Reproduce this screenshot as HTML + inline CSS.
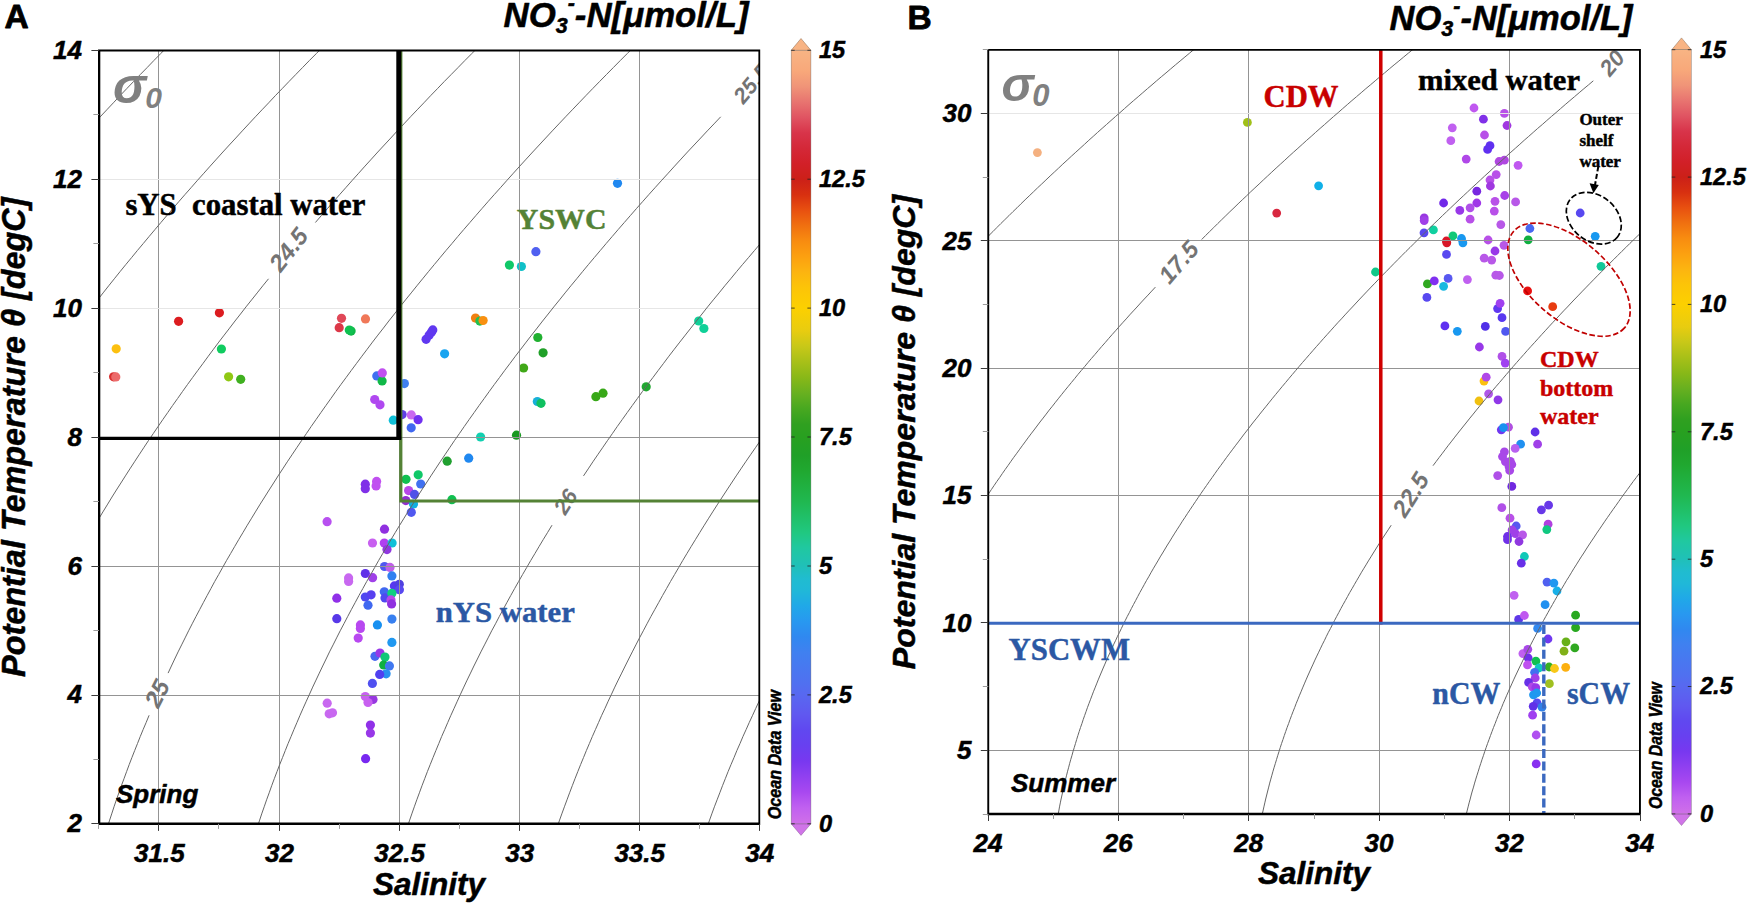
<!DOCTYPE html>
<html lang="en"><head><meta charset="utf-8"><title>T-S diagrams</title>
<style>html,body{margin:0;padding:0;background:#fff}body{width:1750px;height:903px;overflow:hidden}svg{display:block}.s{font-family:"Liberation Sans", Arial, Helvetica, sans-serif;font-weight:bold;font-style:italic;stroke-width:.5px;stroke-linejoin:round}.r{font-family:"Liberation Serif", "Times New Roman", serif;font-weight:bold;stroke-width:.45px;stroke-linejoin:round}</style>
</head><body>
<svg width="1750" height="903" viewBox="0 0 1750 903">
<defs>
<linearGradient id="cb" x1="0" y1="0" x2="0" y2="1">
<stop offset="0.0000" stop-color="#f8b484"/>
<stop offset="0.0267" stop-color="#f8a87a"/>
<stop offset="0.0467" stop-color="#f09478"/>
<stop offset="0.0667" stop-color="#e87470"/>
<stop offset="0.0867" stop-color="#e05462"/>
<stop offset="0.1067" stop-color="#d8344a"/>
<stop offset="0.1267" stop-color="#d42838"/>
<stop offset="0.1467" stop-color="#d22028"/>
<stop offset="0.1667" stop-color="#cc2018"/>
<stop offset="0.1867" stop-color="#d83010"/>
<stop offset="0.2067" stop-color="#e85010"/>
<stop offset="0.2267" stop-color="#f07010"/>
<stop offset="0.2467" stop-color="#f88c10"/>
<stop offset="0.2667" stop-color="#fca010"/>
<stop offset="0.2867" stop-color="#fcb410"/>
<stop offset="0.3067" stop-color="#fcc408"/>
<stop offset="0.3333" stop-color="#fcd000"/>
<stop offset="0.3627" stop-color="#e8cc10"/>
<stop offset="0.3827" stop-color="#c8c818"/>
<stop offset="0.4027" stop-color="#a8c018"/>
<stop offset="0.4233" stop-color="#88b818"/>
<stop offset="0.4433" stop-color="#68b020"/>
<stop offset="0.4633" stop-color="#48a820"/>
<stop offset="0.4833" stop-color="#30a020"/>
<stop offset="0.5000" stop-color="#28a020"/>
<stop offset="0.5233" stop-color="#20a028"/>
<stop offset="0.5433" stop-color="#20a830"/>
<stop offset="0.5633" stop-color="#20b040"/>
<stop offset="0.5833" stop-color="#20b850"/>
<stop offset="0.6033" stop-color="#20c068"/>
<stop offset="0.6233" stop-color="#20c880"/>
<stop offset="0.6433" stop-color="#20c8a0"/>
<stop offset="0.6667" stop-color="#20c0b8"/>
<stop offset="0.6833" stop-color="#20bcd0"/>
<stop offset="0.6987" stop-color="#20b8d8"/>
<stop offset="0.7187" stop-color="#20a8e8"/>
<stop offset="0.7387" stop-color="#2898f0"/>
<stop offset="0.7587" stop-color="#3088f0"/>
<stop offset="0.7787" stop-color="#4080f0"/>
<stop offset="0.7987" stop-color="#4878f0"/>
<stop offset="0.8187" stop-color="#5070f0"/>
<stop offset="0.8333" stop-color="#5868f0"/>
<stop offset="0.8587" stop-color="#6058f0"/>
<stop offset="0.8787" stop-color="#6048f0"/>
<stop offset="0.8987" stop-color="#6840f0"/>
<stop offset="0.9187" stop-color="#7838f0"/>
<stop offset="0.9387" stop-color="#9040f0"/>
<stop offset="0.9587" stop-color="#a848f0"/>
<stop offset="0.9787" stop-color="#c060f0"/>
<stop offset="1.0000" stop-color="#d070e8"/>
</linearGradient>
<clipPath id="ca"><rect x="98.9" y="50.5" width="660.4" height="773.4"/></clipPath>
<clipPath id="cbp"><rect x="988.3" y="49.9" width="651.7" height="764.1"/></clipPath>
</defs>
<rect width="1750" height="903" fill="#fff"/>
<g clip-path="url(#ca)">
<circle cx="116.2" cy="348.8" r="4.6" fill="#fcc010"/>
<circle cx="113.6" cy="376.8" r="4.6" fill="#d83030"/>
<circle cx="115.8" cy="376.9" r="4.6" fill="#ec6a6a"/>
<circle cx="178.6" cy="321.3" r="4.6" fill="#dc1c20"/>
<circle cx="219.4" cy="312.8" r="4.6" fill="#dc1c20"/>
<circle cx="221.4" cy="349.0" r="4.6" fill="#10cc60"/>
<circle cx="228.6" cy="376.8" r="4.6" fill="#90c814"/>
<circle cx="240.7" cy="379.3" r="4.6" fill="#40b020"/>
<circle cx="341.5" cy="318.3" r="4.6" fill="#e04858"/>
<circle cx="339.2" cy="327.7" r="4.6" fill="#dc3848"/>
<circle cx="351.1" cy="331.1" r="4.6" fill="#10b848"/>
<circle cx="349.3" cy="330.0" r="4.6" fill="#10c050"/>
<circle cx="365.5" cy="318.9" r="4.6" fill="#f07858"/>
<circle cx="376.8" cy="375.9" r="4.6" fill="#4070f0"/>
<circle cx="382.1" cy="380.9" r="4.6" fill="#10b848"/>
<circle cx="382.3" cy="372.9" r="4.6" fill="#c050f0"/>
<circle cx="374.7" cy="399.5" r="4.6" fill="#b048f0"/>
<circle cx="380.0" cy="404.8" r="4.6" fill="#b048f0"/>
<circle cx="393.3" cy="420.2" r="4.6" fill="#10c0d8"/>
<circle cx="404.4" cy="383.6" r="4.6" fill="#4080f0"/>
<circle cx="426.1" cy="339.3" r="4.6" fill="#6038f0"/>
<circle cx="429.1" cy="335.2" r="4.6" fill="#6038f0"/>
<circle cx="431.4" cy="332.2" r="4.6" fill="#6038f0"/>
<circle cx="432.8" cy="329.9" r="4.6" fill="#6038f0"/>
<circle cx="444.6" cy="353.8" r="4.6" fill="#18a4f0"/>
<circle cx="402.1" cy="414.6" r="4.6" fill="#6040e8"/>
<circle cx="411.3" cy="414.9" r="4.6" fill="#c868f0"/>
<circle cx="418.1" cy="419.7" r="4.6" fill="#7030f0"/>
<circle cx="411.2" cy="427.8" r="4.6" fill="#4068f0"/>
<circle cx="617.5" cy="183.3" r="4.6" fill="#2088f0"/>
<circle cx="535.9" cy="251.7" r="4.6" fill="#5060f0"/>
<circle cx="509.4" cy="265.1" r="4.6" fill="#10c868"/>
<circle cx="521.4" cy="266.5" r="4.6" fill="#10c0c8"/>
<circle cx="475.5" cy="318.1" r="4.6" fill="#f08010"/>
<circle cx="479.9" cy="321.1" r="4.6" fill="#20c050"/>
<circle cx="483.1" cy="320.5" r="4.6" fill="#f89010"/>
<circle cx="537.8" cy="337.5" r="4.6" fill="#20b030"/>
<circle cx="543.1" cy="352.8" r="4.6" fill="#20a028"/>
<circle cx="523.6" cy="368.0" r="4.6" fill="#40a818"/>
<circle cx="537.3" cy="401.5" r="4.6" fill="#18b0d8"/>
<circle cx="541.0" cy="403.3" r="4.6" fill="#10c060"/>
<circle cx="595.9" cy="396.7" r="4.6" fill="#38a818"/>
<circle cx="603.0" cy="393.2" r="4.6" fill="#38a818"/>
<circle cx="480.6" cy="437.0" r="4.6" fill="#10d0b0"/>
<circle cx="516.5" cy="435.2" r="4.6" fill="#189820"/>
<circle cx="468.7" cy="458.2" r="4.6" fill="#2088f0"/>
<circle cx="447.2" cy="461.2" r="4.6" fill="#20a030"/>
<circle cx="646.2" cy="386.8" r="4.6" fill="#20a830"/>
<circle cx="698.7" cy="321.0" r="4.6" fill="#10d098"/>
<circle cx="703.9" cy="328.5" r="4.6" fill="#10d098"/>
<circle cx="418.2" cy="474.8" r="4.6" fill="#10c868"/>
<circle cx="406.0" cy="479.3" r="4.6" fill="#10c050"/>
<circle cx="420.7" cy="484.0" r="4.6" fill="#4070f0"/>
<circle cx="408.6" cy="490.6" r="4.6" fill="#b848e8"/>
<circle cx="414.5" cy="494.4" r="4.6" fill="#5050e8"/>
<circle cx="405.8" cy="500.6" r="4.6" fill="#9030d0"/>
<circle cx="413.5" cy="504.0" r="4.6" fill="#10b0e0"/>
<circle cx="451.9" cy="499.7" r="4.6" fill="#10c050"/>
<circle cx="411.3" cy="512.3" r="4.6" fill="#5058f0"/>
<circle cx="365.3" cy="484.2" r="4.6" fill="#8030e8"/>
<circle cx="365.3" cy="488.7" r="4.6" fill="#8030e8"/>
<circle cx="376.6" cy="481.4" r="4.6" fill="#c050f0"/>
<circle cx="376.1" cy="485.9" r="4.6" fill="#c050f0"/>
<circle cx="327.1" cy="521.7" r="4.6" fill="#b850f0"/>
<circle cx="384.5" cy="529.2" r="4.6" fill="#9030e0"/>
<circle cx="372.5" cy="543.0" r="4.6" fill="#c860f0"/>
<circle cx="384.3" cy="543.0" r="4.6" fill="#b040f0"/>
<circle cx="392.1" cy="543.0" r="4.6" fill="#10c0d8"/>
<circle cx="387.0" cy="549.6" r="4.6" fill="#9038e0"/>
<circle cx="384.5" cy="566.5" r="4.6" fill="#5058f0"/>
<circle cx="390.0" cy="567.4" r="4.6" fill="#c060e8"/>
<circle cx="391.9" cy="575.9" r="4.6" fill="#3080f0"/>
<circle cx="365.3" cy="573.5" r="4.6" fill="#6030e8"/>
<circle cx="372.6" cy="577.7" r="4.6" fill="#a040e8"/>
<circle cx="348.6" cy="577.9" r="4.6" fill="#c868f0"/>
<circle cx="348.6" cy="581.5" r="4.6" fill="#c868f0"/>
<circle cx="394.4" cy="585.9" r="4.6" fill="#5838f0"/>
<circle cx="399.3" cy="584.3" r="4.6" fill="#5040e0"/>
<circle cx="399.4" cy="589.7" r="4.6" fill="#5848f0"/>
<circle cx="384.3" cy="591.8" r="4.6" fill="#4068f0"/>
<circle cx="385.0" cy="597.9" r="4.6" fill="#5048f0"/>
<circle cx="391.9" cy="593.3" r="4.6" fill="#10d080"/>
<circle cx="391.0" cy="599.9" r="4.6" fill="#b848e8"/>
<circle cx="391.6" cy="603.9" r="4.6" fill="#9030e0"/>
<circle cx="365.3" cy="597.0" r="4.6" fill="#5048f0"/>
<circle cx="371.1" cy="594.8" r="4.6" fill="#5840f0"/>
<circle cx="368.0" cy="605.2" r="4.6" fill="#4068f0"/>
<circle cx="336.8" cy="598.2" r="4.6" fill="#9030e8"/>
<circle cx="336.8" cy="618.7" r="4.6" fill="#5838e8"/>
<circle cx="391.9" cy="619.1" r="4.6" fill="#3880f0"/>
<circle cx="377.4" cy="624.9" r="4.6" fill="#1890f0"/>
<circle cx="360.4" cy="624.9" r="4.6" fill="#b848f0"/>
<circle cx="360.4" cy="628.4" r="4.6" fill="#b848f0"/>
<circle cx="358.2" cy="638.1" r="4.6" fill="#b848f0"/>
<circle cx="391.9" cy="642.4" r="4.6" fill="#2098f0"/>
<circle cx="375.0" cy="656.3" r="4.6" fill="#4868f0"/>
<circle cx="380.0" cy="653.0" r="4.6" fill="#9838e8"/>
<circle cx="385.0" cy="657.0" r="4.6" fill="#10c878"/>
<circle cx="383.7" cy="665.0" r="4.6" fill="#10b040"/>
<circle cx="389.4" cy="665.9" r="4.6" fill="#4078f0"/>
<circle cx="386.1" cy="673.8" r="4.6" fill="#2890f0"/>
<circle cx="379.7" cy="674.4" r="4.6" fill="#5040f0"/>
<circle cx="372.4" cy="683.4" r="4.6" fill="#5050f0"/>
<circle cx="365.3" cy="696.6" r="4.6" fill="#c860f0"/>
<circle cx="373.0" cy="699.5" r="4.6" fill="#9838e0"/>
<circle cx="368.0" cy="702.5" r="4.6" fill="#c860f0"/>
<circle cx="327.2" cy="703.2" r="4.6" fill="#c868f0"/>
<circle cx="329.2" cy="713.8" r="4.6" fill="#c868f0"/>
<circle cx="332.5" cy="712.8" r="4.6" fill="#c868f0"/>
<circle cx="370.4" cy="725.1" r="4.6" fill="#9030e8"/>
<circle cx="370.4" cy="733.1" r="4.6" fill="#9838e8"/>
<circle cx="365.6" cy="758.7" r="4.6" fill="#7828f0"/>
<line x1="158.5" y1="50.5" x2="158.5" y2="823.9" stroke="#949494" stroke-width="1"/>
<line x1="279.5" y1="50.5" x2="279.5" y2="823.9" stroke="#949494" stroke-width="1"/>
<line x1="399.5" y1="50.5" x2="399.5" y2="823.9" stroke="#949494" stroke-width="1"/>
<line x1="519.5" y1="50.5" x2="519.5" y2="823.9" stroke="#949494" stroke-width="1"/>
<line x1="639.5" y1="50.5" x2="639.5" y2="823.9" stroke="#949494" stroke-width="1"/>
<line x1="98.9" y1="695.5" x2="759.3" y2="695.5" stroke="#949494" stroke-width="1"/>
<line x1="98.9" y1="566.5" x2="759.3" y2="566.5" stroke="#949494" stroke-width="1"/>
<line x1="98.9" y1="437.5" x2="759.3" y2="437.5" stroke="#949494" stroke-width="1"/>
<line x1="98.9" y1="308.5" x2="759.3" y2="308.5" stroke="#e6e6e6" stroke-width="1"/>
<line x1="98.9" y1="179.5" x2="759.3" y2="179.5" stroke="#e6e6e6" stroke-width="1"/>
<path d="M-621.5 856.1 L-621.5 849.1 L-621.5 842.0 L-621.5 835.0 L-621.5 828.0 L-621.5 820.9 L-621.5 813.9 L-621.5 806.8 L-621.5 799.8 L-621.5 792.8 L-621.5 785.7 L-621.5 778.7 L-621.5 771.6 L-621.5 764.6 L-621.2 757.6 L-618.8 750.5 L-616.3 743.5 L-613.7 736.4 L-611.1 729.4 L-608.5 722.4 L-605.8 715.3 L-603.0 708.3 L-600.2 701.2 L-597.4 694.2 L-594.5 687.1 L-591.6 680.1 L-588.6 673.1 L-585.6 666.0 L-582.5 659.0 L-579.4 651.9 L-576.2 644.9 L-573.0 637.9 L-569.7 630.8 L-566.4 623.8 L-563.0 616.7 L-559.6 609.7 L-556.1 602.7 L-552.6 595.6 L-549.1 588.6 L-545.5 581.5 L-541.8 574.5 L-538.2 567.5 L-534.4 560.4 L-530.6 553.4 L-526.8 546.3 L-522.9 539.3 L-519.0 532.3 L-515.1 525.2 L-511.1 518.2 L-507.0 511.1 L-502.9 504.1 L-498.7 497.0 L-494.6 490.0 L-490.3 483.0 L-486.0 475.9 L-481.7 468.9 L-477.3 461.8 L-472.9 454.8 L-468.5 447.8 L-464.0 440.7 L-459.4 433.7 L-454.8 426.6 L-450.2 419.6 L-445.5 412.6 L-440.8 405.5 L-436.0 398.5 L-431.2 391.4 L-426.3 384.4 L-421.4 377.4 L-416.5 370.3 L-411.5 363.3 L-406.5 356.2 L-401.4 349.2 L-396.3 342.1 L-391.1 335.1 L-385.9 328.1 L-380.7 321.0 L-375.4 314.0 L-370.1 306.9 L-364.7 299.9 L-359.3 292.9 L-353.8 285.8 L-348.3 278.8 L-342.8 271.7 L-337.2 264.7 L-331.6 257.7 L-325.9 250.6 L-320.2 243.6 L-314.4 236.5 L-308.6 229.5 L-302.8 222.5 L-296.9 215.4 L-291.0 208.4 L-285.0 201.3 L-279.0 194.3 L-273.0 187.3 L-266.9 180.2 L-260.8 173.2 L-254.6 166.1 L-248.4 159.1 L-242.2 152.0 L-235.9 145.0 L-229.5 138.0 L-223.2 130.9 L-216.8 123.9 L-210.3 116.8 L-203.8 109.8 L-197.3 102.8 L-190.7 95.7 L-184.1 88.7 L-177.4 81.6 L-170.7 74.6 L-164.0 67.6 L-157.2 60.5 L-150.4 53.5 L-143.6 46.4 L-136.7 39.4 L-129.7 32.4 L-122.8 25.3 L-115.8 18.3" fill="none" stroke="#666666" stroke-width="1"/>
<path d="M-500.6 856.1 L-498.7 849.1 L-496.9 842.0 L-494.9 835.0 L-493.0 828.0 L-491.0 820.9 L-488.9 813.9 L-486.8 806.8 L-484.6 799.8 L-482.4 792.8 L-480.1 785.7 L-477.8 778.7 L-475.4 771.6 L-473.0 764.6 L-470.5 757.6 L-468.0 750.5 L-465.5 743.5 L-462.9 736.4 L-460.2 729.4 L-457.5 722.4 L-454.7 715.3 L-451.9 708.3 L-449.1 701.2 L-446.2 694.2 L-443.2 687.1 L-440.2 680.1 L-437.2 673.1 L-434.1 666.0 L-431.0 659.0 L-427.8 651.9 L-424.6 644.9 L-421.3 637.9 L-418.0 630.8 L-414.6 623.8 L-411.2 616.7 L-407.7 609.7 L-404.2 602.7 L-400.6 595.6 L-397.0 588.6 L-393.4 581.5 L-389.7 574.5 L-385.9 567.5 L-382.2 560.4 L-378.3 553.4 L-374.4 546.3 L-370.5 539.3 L-366.5 532.3 L-362.5 525.2 L-358.5 518.2 L-354.4 511.1 L-350.2 504.1 L-346.0 497.0 L-341.8 490.0 L-337.5 483.0 L-333.1 475.9 L-328.8 468.9 L-324.3 461.8 L-319.9 454.8 L-315.4 447.8 L-310.8 440.7 L-306.2 433.7 L-301.6 426.6 L-296.9 419.6 L-292.2 412.6 L-287.4 405.5 L-282.6 398.5 L-277.7 391.4 L-272.8 384.4 L-267.8 377.4 L-262.9 370.3 L-257.8 363.3 L-252.7 356.2 L-247.6 349.2 L-242.5 342.1 L-237.2 335.1 L-232.0 328.1 L-226.7 321.0 L-221.4 314.0 L-216.0 306.9 L-210.6 299.9 L-205.1 292.9 L-199.6 285.8 L-194.1 278.8 L-188.5 271.7 L-182.8 264.7 L-177.2 257.7 L-171.5 250.6 L-165.7 243.6 L-159.9 236.5 L-154.1 229.5 L-148.2 222.5 L-142.3 215.4 L-136.3 208.4 L-130.3 201.3 L-124.2 194.3 L-118.1 187.3 L-112.0 180.2 L-105.9 173.2 L-99.6 166.1 L-93.4 159.1 L-87.1 152.0 L-80.8 145.0 L-74.4 138.0 L-68.0 130.9 L-61.5 123.9 L-55.0 116.8 L-48.5 109.8 L-41.9 102.8 L-35.3 95.7 L-28.7 88.7 L-22.0 81.6 L-15.2 74.6 L-8.5 67.6 L-1.6 60.5 L5.2 53.5 L12.1 46.4 L19.0 39.4 L26.0 32.4 L33.0 25.3 L40.1 18.3" fill="none" stroke="#666666" stroke-width="1"/>
<path d="M-350.8 856.1 L-348.9 849.1 L-346.9 842.0 L-345.0 835.0 L-342.9 828.0 L-340.8 820.9 L-338.7 813.9 L-336.5 806.8 L-334.3 799.8 L-332.0 792.8 L-329.7 785.7 L-327.3 778.7 L-324.9 771.6 L-322.4 764.6 L-319.9 757.6 L-317.3 750.5 L-314.7 743.5 L-312.0 736.4 L-309.3 729.4 L-306.5 722.4 L-303.7 715.3 L-300.9 708.3 L-298.0 701.2 L-295.0 694.2 L-292.0 687.1 L-288.9 680.1 L-285.8 673.1 L-282.7 666.0 L-279.5 659.0 L-276.3 651.9 L-273.0 644.9 L-269.6 637.9 L-266.3 630.8 L-262.8 623.8 L-259.4 616.7 L-255.8 609.7 L-252.3 602.7 L-248.7 595.6 L-245.0 588.6 L-241.3 581.5 L-237.5 574.5 L-233.8 567.5 L-229.9 560.4 L-226.0 553.4 L-222.1 546.3 L-218.1 539.3 L-214.1 532.3 L-210.0 525.2 L-205.9 518.2 L-201.7 511.1 L-197.5 504.1 L-193.3 497.0 L-189.0 490.0 L-184.7 483.0 L-180.3 475.9 L-175.8 468.9 L-171.4 461.8 L-166.9 454.8 L-162.3 447.8 L-157.7 440.7 L-153.0 433.7 L-148.3 426.6 L-143.6 419.6 L-138.8 412.6 L-134.0 405.5 L-129.1 398.5 L-124.2 391.4 L-119.3 384.4 L-114.3 377.4 L-109.2 370.3 L-104.2 363.3 L-99.0 356.2 L-93.9 349.2 L-88.7 342.1 L-83.4 335.1 L-78.1 328.1 L-72.8 321.0 L-67.4 314.0 L-62.0 306.9 L-56.5 299.9 L-51.0 292.9 L-45.4 285.8 L-39.8 278.8 L-34.2 271.7 L-28.5 264.7 L-22.8 257.7 L-17.0 250.6 L-11.2 243.6 L-5.4 236.5 L0.5 229.5 L6.4 222.5 L12.4 215.4 L18.4 208.4 L24.4 201.3 L30.5 194.3 L36.7 187.3 L42.8 180.2 L49.0 173.2 L55.3 166.1 L61.6 159.1 L67.9 152.0 L74.3 145.0 L80.7 138.0 L87.2 130.9 L93.7 123.9 L100.2 116.8 L106.8 109.8 L113.4 102.8 L120.0 95.7 L126.7 88.7 L133.5 81.6 L140.2 74.6 L147.1 67.6 L153.9 60.5 L160.8 53.5 L167.7 46.4 L174.7 39.4 L181.7 32.4 L188.8 25.3 L195.9 18.3" fill="none" stroke="#666666" stroke-width="1"/>
<path d="M-201.0 856.1 L-199.0 849.1 L-197.0 842.0 L-195.0 835.0 L-192.9 828.0 L-190.7 820.9 L-188.6 813.9 L-186.3 806.8 L-184.0 799.8 L-181.7 792.8 L-179.3 785.7 L-176.9 778.7 L-174.4 771.6 L-171.8 764.6 L-169.3 757.6 L-166.6 750.5 L-163.9 743.5 L-161.2 736.4 L-158.4 729.4 L-155.6 722.4 L-152.7 715.3 L-149.8 708.3 L-146.9 701.2 L-143.8 694.2 L-140.8 687.1 L-137.7 680.1 L-134.5 673.1 L-131.3 666.0 L-128.1 659.0 L-124.8 651.9 L-121.4 644.9 L-118.0 637.9 L-114.6 630.8 L-111.1 623.8 L-107.6 616.7 L-104.0 609.7 L-100.4 602.7 L-96.7 595.6 L-93.0 588.6 L-89.3 581.5 L-85.4 574.5 L-81.6 567.5 L-77.7 560.4 L-73.8 553.4 L-69.8 546.3 L-65.7 539.3 L-61.7 532.3 L-57.5 525.2 L-53.4 518.2 L-49.2 511.1 L-44.9 504.1 L-40.6 497.0 L-36.3 490.0 L-31.9 483.0 L-27.4 475.9 L-23.0 468.9 L-18.4 461.8 L-13.9 454.8 L-9.3 447.8 L-4.6 440.7 L0.1 433.7 L4.8 426.6 L9.6 419.6 L14.5 412.6 L19.3 405.5 L24.2 398.5 L29.2 391.4 L34.2 384.4 L39.2 377.4 L44.3 370.3 L49.5 363.3 L54.6 356.2 L59.9 349.2 L65.1 342.1 L70.4 335.1 L75.8 328.1 L81.1 321.0 L86.6 314.0 L92.0 306.9 L97.6 299.9 L103.1 292.9 L108.7 285.8 L114.3 278.8 L120.0 271.7 L125.7 264.7 L131.5 257.7 L137.3 250.6 L143.2 243.6 L149.1 236.5 L155.0 229.5 L160.9 222.5 L167.0 215.4 L173.0 208.4 L179.1 201.3 L185.2 194.3 L191.4 187.3 L197.6 180.2 L203.9 173.2 L210.2 166.1 L216.5 159.1 L222.9 152.0 L229.3 145.0 L235.8 138.0 L242.3 130.9 L248.8 123.9 L255.4 116.8 L262.0 109.8 L268.7 102.8 L275.3 95.7 L282.1 88.7 L288.9 81.6 L295.7 74.6 L302.5 67.6 L309.4 60.5 L316.4 53.5 L323.3 46.4 L330.3 39.4 L337.4 32.4 L344.5 25.3 L351.6 18.3" fill="none" stroke="#666666" stroke-width="1"/>
<path d="M-51.2 856.1 L-49.2 849.1 L-47.1 842.0 L-45.0 835.0 L-42.9 828.0 L-40.7 820.9 L-38.4 813.9 L-36.1 806.8 L-33.8 799.8 L-31.4 792.8 L-28.9 785.7 L-26.4 778.7 L-23.9 771.6 L-21.3 764.6 L-18.6 757.6 L-16.0 750.5 L-13.2 743.5 L-10.4 736.4 L-7.6 729.4 L-4.7 722.4 L-1.8 715.3 L1.2 708.3 L4.2 701.2 L7.3 694.2 L10.4 687.1 L13.6 680.1 L16.8 673.1 L20.0 666.0 L23.3 659.0 L26.7 651.9 L30.1 644.9 L33.5 637.9 L37.0 630.8 L40.6 623.8 L44.2 616.7 L47.8 609.7 L51.5 602.7 L55.2 595.6 L59.0 588.6 L62.8 581.5 L66.6 574.5 L70.5 567.5 L74.5 560.4 L78.5 553.4 L82.5 546.3 L86.6 539.3 L90.7 532.3 L94.9 525.2 L99.1 518.2 L103.4 511.1 L107.7 504.1 L112.0 497.0 L116.4 490.0 L120.9 483.0 L125.4 475.9 L129.9 468.9 L134.5 461.8 L139.1 454.8 L143.7 447.8 L148.4 440.7 L153.2 433.7 L158.0 426.6 L162.8 419.6 L167.7 412.6 L172.6 405.5 L177.6 398.5 L182.6 391.4 L187.6 384.4 L192.7 377.4 L197.9 370.3 L203.1 363.3 L208.3 356.2 L213.5 349.2 L218.8 342.1 L224.2 335.1 L229.6 328.1 L235.0 321.0 L240.5 314.0 L246.0 306.9 L251.6 299.9 L257.2 292.9 L262.8 285.8 L268.5 278.8" fill="none" stroke="#666666" stroke-width="1"/>
<path d="M315.4 222.5 L321.5 215.4 L327.6 208.4 L333.7 201.3 L339.9 194.3 L346.1 187.3 L352.4 180.2 L358.7 173.2 L365.0 166.1 L371.4 159.1 L377.8 152.0 L384.3 145.0 L390.8 138.0 L397.3 130.9 L403.9 123.9 L410.5 116.8 L417.2 109.8 L423.9 102.8 L430.6 95.7 L437.4 88.7 L444.2 81.6 L451.1 74.6 L458.0 67.6 L464.9 60.5 L471.9 53.5 L478.9 46.4 L485.9 39.4 L493.0 32.4 L500.1 25.3 L507.3 18.3" fill="none" stroke="#666666" stroke-width="1"/>
<path d="M98.5 856.1 L100.6 849.1 L102.7 842.0 L104.9 835.0 L107.1 828.0 L109.4 820.9 L111.7 813.9 L114.0 806.8 L116.4 799.8 L118.9 792.8 L121.4 785.7 L124.0 778.7 L126.6 771.6 L129.2 764.6 L131.9 757.6 L134.7 750.5 L137.5 743.5 L140.3 736.4 L143.2 729.4 L146.2 722.4 L149.1 715.3" fill="none" stroke="#666666" stroke-width="1"/>
<path d="M168.1 673.1 L171.4 666.0 L174.7 659.0 L178.1 651.9 L181.6 644.9 L185.1 637.9 L188.6 630.8 L192.2 623.8 L195.9 616.7 L199.6 609.7 L203.3 602.7 L207.1 595.6 L210.9 588.6 L214.7 581.5 L218.7 574.5 L222.6 567.5 L226.6 560.4 L230.7 553.4 L234.8 546.3 L238.9 539.3 L243.1 532.3 L247.3 525.2 L251.6 518.2 L255.9 511.1 L260.2 504.1 L264.7 497.0 L269.1 490.0 L273.6 483.0 L278.1 475.9 L282.7 468.9 L287.3 461.8 L292.0 454.8 L296.7 447.8 L301.5 440.7 L306.3 433.7 L311.1 426.6 L316.0 419.6 L320.9 412.6 L325.9 405.5 L330.9 398.5 L335.9 391.4 L341.0 384.4 L346.2 377.4 L351.4 370.3 L356.6 363.3 L361.9 356.2 L367.2 349.2 L372.5 342.1 L377.9 335.1 L383.4 328.1 L388.8 321.0 L394.4 314.0 L399.9 306.9 L405.5 299.9 L411.2 292.9 L416.9 285.8 L422.6 278.8 L428.4 271.7 L434.2 264.7 L440.0 257.7 L445.9 250.6 L451.9 243.6 L457.8 236.5 L463.8 229.5 L469.9 222.5 L476.0 215.4 L482.1 208.4 L488.3 201.3 L494.5 194.3 L500.8 187.3 L507.1 180.2 L513.4 173.2 L519.8 166.1 L526.2 159.1 L532.7 152.0 L539.2 145.0 L545.7 138.0 L552.3 130.9 L558.9 123.9 L565.6 116.8 L572.3 109.8 L579.0 102.8 L585.8 95.7 L592.6 88.7 L599.5 81.6 L606.4 74.6 L613.3 67.6 L620.3 60.5 L627.3 53.5 L634.4 46.4 L641.5 39.4 L648.6 32.4 L655.8 25.3 L663.0 18.3" fill="none" stroke="#666666" stroke-width="1"/>
<path d="M248.2 856.1 L250.4 849.1 L252.5 842.0 L254.8 835.0 L257.0 828.0 L259.4 820.9 L261.7 813.9 L264.2 806.8 L266.6 799.8 L269.2 792.8 L271.7 785.7 L274.3 778.7 L277.0 771.6 L279.7 764.6 L282.5 757.6 L285.3 750.5 L288.1 743.5 L291.1 736.4 L294.0 729.4 L297.0 722.4 L300.0 715.3 L303.1 708.3 L306.3 701.2 L309.5 694.2 L312.7 687.1 L316.0 680.1 L319.3 673.1 L322.7 666.0 L326.1 659.0 L329.5 651.9 L333.1 644.9 L336.6 637.9 L340.2 630.8 L343.9 623.8 L347.6 616.7 L351.3 609.7 L355.1 602.7 L358.9 595.6 L362.8 588.6 L366.7 581.5 L370.7 574.5 L374.7 567.5 L378.7 560.4 L382.8 553.4 L387.0 546.3 L391.2 539.3 L395.4 532.3 L399.7 525.2 L404.0 518.2 L408.4 511.1 L412.8 504.1 L417.2 497.0 L421.7 490.0 L426.3 483.0 L430.9 475.9 L435.5 468.9 L440.2 461.8 L444.9 454.8 L449.6 447.8 L454.4 440.7 L459.3 433.7 L464.2 426.6 L469.1 419.6 L474.1 412.6 L479.1 405.5 L484.2 398.5 L489.3 391.4 L494.4 384.4 L499.6 377.4 L504.8 370.3 L510.1 363.3 L515.4 356.2 L520.8 349.2 L526.2 342.1 L531.6 335.1 L537.1 328.1 L542.6 321.0 L548.2 314.0 L553.8 306.9 L559.5 299.9 L565.1 292.9 L570.9 285.8 L576.7 278.8 L582.5 271.7 L588.3 264.7 L594.2 257.7 L600.2 250.6 L606.1 243.6 L612.2 236.5 L618.2 229.5 L624.3 222.5 L630.5 215.4 L636.6 208.4 L642.9 201.3 L649.1 194.3 L655.4 187.3 L661.8 180.2 L668.2 173.2 L674.6 166.1 L681.0 159.1 L687.5 152.0 L694.1 145.0 L700.7 138.0 L707.3 130.9 L714.0 123.9 L720.7 116.8" fill="none" stroke="#666666" stroke-width="1"/>
<path d="M782.7 53.5 L789.8 46.4 L796.9 39.4 L804.1 32.4 L811.3 25.3 L818.6 18.3" fill="none" stroke="#666666" stroke-width="1"/>
<path d="M397.9 856.1 L400.1 849.1 L402.3 842.0 L404.6 835.0 L407.0 828.0 L409.4 820.9 L411.8 813.9 L414.3 806.8 L416.8 799.8 L419.4 792.8 L422.0 785.7 L424.7 778.7 L427.4 771.6 L430.2 764.6 L433.0 757.6 L435.9 750.5 L438.8 743.5 L441.7 736.4 L444.8 729.4 L447.8 722.4 L450.9 715.3 L454.1 708.3 L457.3 701.2 L460.5 694.2 L463.8 687.1 L467.1 680.1 L470.5 673.1 L473.9 666.0 L477.4 659.0 L480.9 651.9 L484.5 644.9 L488.1 637.9 L491.7 630.8 L495.5 623.8 L499.2 616.7 L503.0 609.7 L506.8 602.7 L510.7 595.6 L514.6 588.6 L518.6 581.5 L522.6 574.5 L526.7 567.5 L530.8 560.4 L535.0 553.4 L539.2 546.3 L543.4 539.3 L547.7 532.3 L552.0 525.2" fill="none" stroke="#666666" stroke-width="1"/>
<path d="M583.5 475.9 L588.2 468.9 L592.9 461.8 L597.7 454.8 L602.5 447.8 L607.4 440.7 L612.3 433.7 L617.2 426.6 L622.2 419.6 L627.2 412.6 L632.3 405.5 L637.4 398.5 L642.5 391.4 L647.7 384.4 L653.0 377.4 L658.3 370.3 L663.6 363.3 L668.9 356.2 L674.3 349.2 L679.8 342.1 L685.3 335.1 L690.8 328.1 L696.4 321.0 L702.0 314.0 L707.6 306.9 L713.3 299.9 L719.1 292.9 L724.8 285.8 L730.7 278.8 L736.5 271.7 L742.4 264.7 L748.4 257.7 L754.4 250.6 L760.4 243.6 L766.4 236.5 L772.5 229.5 L778.7 222.5 L784.9 215.4 L791.1 208.4 L797.4 201.3 L803.7 194.3 L810.0 187.3 L816.4 180.2 L822.8 173.2 L829.3 166.1 L835.8 159.1 L842.3 152.0 L848.9 145.0 L855.5 138.0 L862.2 130.9 L868.9 123.9 L875.7 116.8 L882.4 109.8 L889.3 102.8 L896.1 95.7 L903.0 88.7 L909.9 81.6 L916.9 74.6 L923.9 67.6 L931.0 60.5 L938.1 53.5 L945.2 46.4 L952.4 39.4 L959.6 32.4 L966.8 25.3 L974.1 18.3" fill="none" stroke="#666666" stroke-width="1"/>
<path d="M547.6 856.1 L549.8 849.1 L552.1 842.0 L554.5 835.0 L556.9 828.0 L559.3 820.9 L561.8 813.9 L564.4 806.8 L567.0 799.8 L569.6 792.8 L572.3 785.7 L575.0 778.7 L577.8 771.6 L580.6 764.6 L583.5 757.6 L586.4 750.5 L589.4 743.5 L592.4 736.4 L595.5 729.4 L598.6 722.4 L601.7 715.3 L605.0 708.3 L608.2 701.2 L611.5 694.2 L614.8 687.1 L618.2 680.1 L621.7 673.1 L625.2 666.0 L628.7 659.0 L632.3 651.9 L635.9 644.9 L639.5 637.9 L643.3 630.8 L647.0 623.8 L650.8 616.7 L654.7 609.7 L658.6 602.7 L662.5 595.6 L666.5 588.6 L670.5 581.5 L674.6 574.5 L678.7 567.5 L682.8 560.4 L687.0 553.4 L691.3 546.3 L695.6 539.3 L699.9 532.3 L704.3 525.2 L708.7 518.2 L713.2 511.1 L717.7 504.1 L722.3 497.0 L726.9 490.0 L731.5 483.0 L736.2 475.9 L740.9 468.9 L745.7 461.8 L750.5 454.8 L755.4 447.8 L760.3 440.7 L765.2 433.7 L770.2 426.6 L775.2 419.6 L780.3 412.6 L785.4 405.5 L790.6 398.5 L795.8 391.4 L801.0 384.4 L806.3 377.4 L811.6 370.3 L817.0 363.3 L822.4 356.2 L827.9 349.2 L833.3 342.1 L838.9 335.1 L844.5 328.1 L850.1 321.0 L855.7 314.0 L861.4 306.9 L867.2 299.9 L873.0 292.9 L878.8 285.8 L884.6 278.8 L890.5 271.7 L896.5 264.7 L902.5 257.7 L908.5 250.6 L914.6 243.6 L920.7 236.5 L926.8 229.5 L933.0 222.5 L939.2 215.4 L945.5 208.4 L951.8 201.3 L958.2 194.3 L964.6 187.3 L971.0 180.2 L977.4 173.2 L984.0 166.1 L990.5 159.1 L997.1 152.0 L1003.7 145.0 L1010.4 138.0 L1017.1 130.9 L1023.8 123.9 L1030.6 116.8 L1037.4 109.8 L1044.3 102.8 L1051.2 95.7 L1058.1 88.7 L1065.1 81.6 L1072.1 74.6 L1079.2 67.6 L1086.3 60.5 L1093.4 53.5 L1100.6 46.4 L1107.8 39.4 L1115.0 32.4 L1122.3 25.3 L1129.6 18.3" fill="none" stroke="#666666" stroke-width="1"/>
<path d="M697.2 856.1 L699.5 849.1 L701.9 842.0 L704.3 835.0 L706.7 828.0 L709.3 820.9 L711.8 813.9 L714.4 806.8 L717.1 799.8 L719.8 792.8 L722.5 785.7 L725.3 778.7 L728.1 771.6 L731.0 764.6 L734.0 757.6 L736.9 750.5 L740.0 743.5 L743.0 736.4 L746.2 729.4 L749.3 722.4 L752.6 715.3 L755.8 708.3 L759.1 701.2 L762.5 694.2 L765.9 687.1 L769.3 680.1 L772.8 673.1 L776.4 666.0 L779.9 659.0 L783.6 651.9 L787.2 644.9 L791.0 637.9 L794.7 630.8 L798.5 623.8 L802.4 616.7 L806.3 609.7 L810.2 602.7 L814.2 595.6 L818.3 588.6 L822.3 581.5 L826.5 574.5 L830.6 567.5 L834.8 560.4 L839.1 553.4 L843.4 546.3 L847.7 539.3 L852.1 532.3 L856.6 525.2 L861.0 518.2 L865.6 511.1 L870.1 504.1 L874.7 497.0 L879.4 490.0 L884.1 483.0 L888.8 475.9 L893.6 468.9 L898.4 461.8 L903.3 454.8 L908.2 447.8 L913.1 440.7 L918.1 433.7 L923.2 426.6 L928.2 419.6 L933.4 412.6 L938.5 405.5 L943.7 398.5 L949.0 391.4 L954.3 384.4 L959.6 377.4 L965.0 370.3 L970.4 363.3 L975.8 356.2 L981.3 349.2 L986.9 342.1 L992.5 335.1 L998.1 328.1 L1003.7 321.0 L1009.4 314.0 L1015.2 306.9 L1021.0 299.9 L1026.8 292.9 L1032.7 285.8 L1038.6 278.8 L1044.5 271.7 L1050.5 264.7 L1056.5 257.7 L1062.6 250.6 L1068.7 243.6 L1074.9 236.5 L1081.1 229.5 L1087.3 222.5 L1093.6 215.4 L1099.9 208.4 L1106.2 201.3 L1112.6 194.3 L1119.0 187.3 L1125.5 180.2 L1132.0 173.2 L1138.6 166.1 L1145.2 159.1 L1151.8 152.0 L1158.5 145.0 L1165.2 138.0 L1171.9 130.9 L1178.7 123.9 L1185.5 116.8 L1192.4 109.8 L1199.3 102.8 L1206.2 95.7 L1213.2 88.7 L1220.2 81.6 L1227.3 74.6 L1234.3 67.6 L1241.5 60.5 L1248.6 53.5 L1255.9 46.4 L1263.1 39.4 L1270.4 32.4 L1277.7 25.3 L1285.1 18.3" fill="none" stroke="#666666" stroke-width="1"/>
<path d="M846.8 856.1 L849.2 849.1 L851.6 842.0 L854.1 835.0 L856.6 828.0 L859.2 820.9 L861.8 813.9 L864.4 806.8 L867.1 799.8 L869.9 792.8 L872.7 785.7 L875.6 778.7 L878.5 771.6 L881.4 764.6 L884.4 757.6 L887.4 750.5 L890.5 743.5 L893.6 736.4 L896.8 729.4 L900.1 722.4 L903.3 715.3 L906.6 708.3 L910.0 701.2 L913.4 694.2 L916.9 687.1 L920.4 680.1 L923.9 673.1 L927.5 666.0 L931.2 659.0 L934.8 651.9 L938.6 644.9 L942.3 637.9 L946.2 630.8 L950.0 623.8 L953.9 616.7 L957.9 609.7 L961.9 602.7 L965.9 595.6 L970.0 588.6 L974.1 581.5 L978.3 574.5 L982.5 567.5 L986.8 560.4 L991.1 553.4 L995.5 546.3 L999.9 539.3 L1004.3 532.3 L1008.8 525.2 L1013.3 518.2 L1017.9 511.1 L1022.5 504.1 L1027.2 497.0 L1031.9 490.0 L1036.6 483.0 L1041.4 475.9 L1046.2 468.9 L1051.1 461.8 L1056.0 454.8 L1061.0 447.8 L1066.0 440.7 L1071.0 433.7 L1076.1 426.6 L1081.2 419.6 L1086.4 412.6 L1091.6 405.5 L1096.8 398.5 L1102.1 391.4 L1107.5 384.4 L1112.8 377.4 L1118.3 370.3 L1123.7 363.3 L1129.2 356.2 L1134.8 349.2 L1140.4 342.1 L1146.0 335.1 L1151.6 328.1 L1157.4 321.0 L1163.1 314.0 L1168.9 306.9 L1174.7 299.9 L1180.6 292.9 L1186.5 285.8 L1192.5 278.8 L1198.4 271.7 L1204.5 264.7 L1210.6 257.7 L1216.7 250.6 L1222.8 243.6 L1229.0 236.5 L1235.3 229.5 L1241.5 222.5 L1247.8 215.4 L1254.2 208.4 L1260.6 201.3 L1267.0 194.3 L1273.5 187.3 L1280.0 180.2 L1286.5 173.2 L1293.1 166.1 L1299.8 159.1 L1306.4 152.0 L1313.1 145.0 L1319.9 138.0 L1326.7 130.9 L1333.5 123.9 L1340.4 116.8 L1347.3 109.8 L1354.2 102.8 L1361.2 95.7 L1368.2 88.7 L1375.3 81.6 L1382.3 74.6 L1389.5 67.6 L1396.6 60.5 L1403.9 53.5 L1411.1 46.4 L1418.4 39.4 L1425.7 32.4 L1433.1 25.3 L1440.5 18.3" fill="none" stroke="#666666" stroke-width="1"/>
<path d="M996.4 856.1 L998.8 849.1 L1001.3 842.0 L1003.8 835.0 L1006.4 828.0 L1009.0 820.9 L1011.7 813.9 L1014.4 806.8 L1017.2 799.8 L1020.0 792.8 L1022.9 785.7 L1025.8 778.7 L1028.7 771.6 L1031.7 764.6 L1034.8 757.6 L1037.9 750.5 L1041.0 743.5 L1044.2 736.4 L1047.5 729.4 L1050.7 722.4 L1054.1 715.3 L1057.4 708.3 L1060.9 701.2 L1064.3 694.2 L1067.8 687.1 L1071.4 680.1 L1075.0 673.1 L1078.6 666.0 L1082.3 659.0 L1086.1 651.9 L1089.9 644.9 L1093.7 637.9 L1097.6 630.8 L1101.5 623.8 L1105.4 616.7 L1109.4 609.7 L1113.5 602.7 L1117.6 595.6 L1121.7 588.6 L1125.9 581.5 L1130.1 574.5 L1134.4 567.5 L1138.7 560.4 L1143.1 553.4 L1147.5 546.3 L1151.9 539.3 L1156.4 532.3 L1161.0 525.2 L1165.5 518.2 L1170.2 511.1 L1174.8 504.1 L1179.5 497.0 L1184.3 490.0 L1189.1 483.0 L1193.9 475.9 L1198.8 468.9 L1203.7 461.8 L1208.7 454.8 L1213.7 447.8 L1218.7 440.7 L1223.8 433.7 L1229.0 426.6 L1234.1 419.6 L1239.3 412.6 L1244.6 405.5 L1249.9 398.5 L1255.2 391.4 L1260.6 384.4 L1266.0 377.4 L1271.5 370.3 L1277.0 363.3 L1282.6 356.2 L1288.2 349.2 L1293.8 342.1 L1299.5 335.1 L1305.2 328.1 L1310.9 321.0 L1316.7 314.0 L1322.6 306.9 L1328.4 299.9 L1334.3 292.9 L1340.3 285.8 L1346.3 278.8 L1352.3 271.7 L1358.4 264.7 L1364.5 257.7 L1370.7 250.6 L1376.9 243.6 L1383.1 236.5 L1389.4 229.5 L1395.7 222.5 L1402.1 215.4 L1408.5 208.4 L1414.9 201.3 L1421.4 194.3 L1427.9 187.3 L1434.4 180.2 L1441.0 173.2 L1447.7 166.1 L1454.3 159.1 L1461.0 152.0 L1467.8 145.0 L1474.6 138.0 L1479.7 130.9 L1479.7 123.9 L1479.7 116.8 L1479.7 109.8 L1479.7 102.8 L1479.7 95.7 L1479.7 88.7 L1479.7 81.6 L1479.7 74.6 L1479.7 67.6 L1479.7 60.5 L1479.7 53.5 L1479.7 46.4 L1479.7 39.4 L1479.7 32.4 L1479.7 25.3 L1479.7 18.3" fill="none" stroke="#666666" stroke-width="1"/>
<text class="s" x="288.5" y="249.5" font-size="24.0" fill="#747474" text-anchor="middle" transform="rotate(-52 288.5 249.5)" dy="8.5">24.5</text>
<text class="s" x="751.3" y="83.5" font-size="22.0" fill="#747474" text-anchor="middle" transform="rotate(-50 751.3 83.5)" dy="7.8">25.5</text>
<text class="s" x="157.0" y="693.5" font-size="24.0" fill="#747474" text-anchor="middle" transform="rotate(-63 157.0 693.5)" dy="8.5">25</text>
<text class="s" x="565.3" y="501.5" font-size="22.0" fill="#747474" text-anchor="middle" transform="rotate(-58 565.3 501.5)" dy="7.8">26</text>
</g>
<path d="M400.8 50.5 V501 H759.3" fill="none" stroke="#548235" stroke-width="3.2"/>
<path d="M398.8 50.5 V438.4" fill="none" stroke="#000" stroke-width="5"/>
<path d="M98.9 438.4 H401.3" fill="none" stroke="#000" stroke-width="3.4"/>
<path d="M98.0 49.4 H760.2 V825.1 H98.0 Z M100.3 51.5 V822.6 H758.4 V51.5 Z" fill="#000" fill-rule="evenodd"/>
<line x1="98.5" y1="823.9" x2="98.5" y2="828.9" stroke="#9c9c9c" stroke-width="1"/>
<line x1="158.5" y1="823.9" x2="158.5" y2="830.9" stroke="#3a3a3a" stroke-width="1"/>
<line x1="218.5" y1="823.9" x2="218.5" y2="828.9" stroke="#9c9c9c" stroke-width="1"/>
<line x1="279.5" y1="823.9" x2="279.5" y2="830.9" stroke="#3a3a3a" stroke-width="1"/>
<line x1="339.5" y1="823.9" x2="339.5" y2="828.9" stroke="#9c9c9c" stroke-width="1"/>
<line x1="399.5" y1="823.9" x2="399.5" y2="830.9" stroke="#3a3a3a" stroke-width="1"/>
<line x1="459.5" y1="823.9" x2="459.5" y2="828.9" stroke="#9c9c9c" stroke-width="1"/>
<line x1="519.5" y1="823.9" x2="519.5" y2="830.9" stroke="#3a3a3a" stroke-width="1"/>
<line x1="579.5" y1="823.9" x2="579.5" y2="828.9" stroke="#9c9c9c" stroke-width="1"/>
<line x1="639.5" y1="823.9" x2="639.5" y2="830.9" stroke="#3a3a3a" stroke-width="1"/>
<line x1="699.5" y1="823.9" x2="699.5" y2="828.9" stroke="#9c9c9c" stroke-width="1"/>
<line x1="759.5" y1="823.9" x2="759.5" y2="830.9" stroke="#3a3a3a" stroke-width="1"/>
<line x1="91.4" y1="823.5" x2="98.9" y2="823.5" stroke="#3a3a3a" stroke-width="1"/>
<line x1="93.4" y1="759.5" x2="98.9" y2="759.5" stroke="#9c9c9c" stroke-width="1"/>
<line x1="91.4" y1="695.5" x2="98.9" y2="695.5" stroke="#3a3a3a" stroke-width="1"/>
<line x1="93.4" y1="630.5" x2="98.9" y2="630.5" stroke="#9c9c9c" stroke-width="1"/>
<line x1="91.4" y1="566.5" x2="98.9" y2="566.5" stroke="#3a3a3a" stroke-width="1"/>
<line x1="93.4" y1="501.5" x2="98.9" y2="501.5" stroke="#9c9c9c" stroke-width="1"/>
<line x1="91.4" y1="437.5" x2="98.9" y2="437.5" stroke="#3a3a3a" stroke-width="1"/>
<line x1="93.4" y1="372.5" x2="98.9" y2="372.5" stroke="#9c9c9c" stroke-width="1"/>
<line x1="91.4" y1="308.5" x2="98.9" y2="308.5" stroke="#3a3a3a" stroke-width="1"/>
<line x1="93.4" y1="243.5" x2="98.9" y2="243.5" stroke="#9c9c9c" stroke-width="1"/>
<line x1="91.4" y1="179.5" x2="98.9" y2="179.5" stroke="#3a3a3a" stroke-width="1"/>
<line x1="93.4" y1="114.5" x2="98.9" y2="114.5" stroke="#9c9c9c" stroke-width="1"/>
<line x1="91.4" y1="50.5" x2="98.9" y2="50.5" stroke="#3a3a3a" stroke-width="1"/>
<text class="s" x="159.4" y="861.5" font-size="26" text-anchor="middle" stroke="#000">31.5</text>
<text class="s" x="279.5" y="861.5" font-size="26" text-anchor="middle" stroke="#000">32</text>
<text class="s" x="399.6" y="861.5" font-size="26" text-anchor="middle" stroke="#000">32.5</text>
<text class="s" x="519.7" y="861.5" font-size="26" text-anchor="middle" stroke="#000">33</text>
<text class="s" x="639.7" y="861.5" font-size="26" text-anchor="middle" stroke="#000">33.5</text>
<text class="s" x="759.8" y="861.5" font-size="26" text-anchor="middle" stroke="#000">34</text>
<text class="s" x="82" y="832.3" font-size="26" text-anchor="end" stroke="#000">2</text>
<text class="s" x="82" y="703.4" font-size="26" text-anchor="end" stroke="#000">4</text>
<text class="s" x="82" y="574.5" font-size="26" text-anchor="end" stroke="#000">6</text>
<text class="s" x="82" y="445.6" font-size="26" text-anchor="end" stroke="#000">8</text>
<text class="s" x="82" y="316.7" font-size="26" text-anchor="end" stroke="#000">10</text>
<text class="s" x="82" y="187.8" font-size="26" text-anchor="end" stroke="#000">12</text>
<text class="s" x="82" y="58.9" font-size="26" text-anchor="end" stroke="#000">14</text>
<text class="s" x="429" y="894.5" font-size="31.5" text-anchor="middle" stroke="#000">Salinity</text>
<text class="s" x="0" y="0" font-size="32.4" text-anchor="middle" transform="translate(24.8 437.2) rotate(-90)" stroke="#000">Potential Temperature θ [degC]</text>
<text class="s" x="503.5" y="26.6" font-size="34.8" stroke="#000">NO<tspan font-size="21.5" dy="6">3</tspan><tspan font-size="21.5" dy="-23">-</tspan><tspan dy="17">-N[μmol/L]</tspan></text>
<text x="4.5" y="28.3" font-family='"Liberation Sans", Arial, Helvetica, sans-serif' font-weight="bold" font-size="33.5" stroke="#000" stroke-width="0.8" stroke-linejoin="round">A</text>
<text class="s" x="113" y="103" font-size="50" fill="#808080">σ<tspan font-size="30" dy="5" dx="-1">0</tspan></text>
<text class="s" x="116" y="802.8" font-size="26" stroke="#000">Spring</text>
<text class="r" x="125.4" y="214.7" font-size="30.5" textLength="240" lengthAdjust="spacingAndGlyphs" style="white-space:pre" stroke="#000">sYS  coastal water</text>
<text class="r" x="516.8" y="228.8" font-size="30" fill="#548235" textLength="89.7" lengthAdjust="spacingAndGlyphs" stroke="#548235">YSWC</text>
<text class="r" x="435.8" y="621.5" font-size="30" fill="#2b58a4" textLength="139" lengthAdjust="spacingAndGlyphs" stroke="#2b58a4">nYS water</text>
<path d="M791.2 50.3 L801.0 38.5 L810.9 50.3 Z" fill="#f8b484" stroke="#8a6a50" stroke-width="0.5"/>
<path d="M791.2 823.8 L801.0 835.4 L810.9 823.8 Z" fill="#d074e8" stroke="#8a5a98" stroke-width="0.5"/>
<rect x="791.2" y="50.3" width="19.7" height="773.5" fill="url(#cb)" stroke="#555" stroke-opacity="0.55" stroke-width="0.6"/>
<path d="M791.2 823.8 h3.5 M810.9 823.8 h-3.5" stroke="#222" stroke-opacity="0.8" stroke-width="1"/>
<text class="s" x="819.0" y="831.7" font-size="23.6" stroke="#000">0</text>
<path d="M791.2 694.9 h3.5 M810.9 694.9 h-3.5" stroke="#222" stroke-opacity="0.8" stroke-width="1"/>
<text class="s" x="819.0" y="702.8" font-size="23.6" stroke="#000">2.5</text>
<path d="M791.2 566.0 h3.5 M810.9 566.0 h-3.5" stroke="#222" stroke-opacity="0.8" stroke-width="1"/>
<text class="s" x="819.0" y="573.9" font-size="23.6" stroke="#000">5</text>
<path d="M791.2 437.0 h3.5 M810.9 437.0 h-3.5" stroke="#222" stroke-opacity="0.8" stroke-width="1"/>
<text class="s" x="819.0" y="444.9" font-size="23.6" stroke="#000">7.5</text>
<path d="M791.2 308.1 h3.5 M810.9 308.1 h-3.5" stroke="#222" stroke-opacity="0.8" stroke-width="1"/>
<text class="s" x="819.0" y="316.0" font-size="23.6" stroke="#000">10</text>
<path d="M791.2 179.2 h3.5 M810.9 179.2 h-3.5" stroke="#222" stroke-opacity="0.8" stroke-width="1"/>
<text class="s" x="819.0" y="187.1" font-size="23.6" stroke="#000">12.5</text>
<path d="M791.2 50.3 h3.5 M810.9 50.3 h-3.5" stroke="#222" stroke-opacity="0.8" stroke-width="1"/>
<text class="s" x="819.0" y="58.2" font-size="23.6" stroke="#000">15</text>
<text class="s" x="0" y="0" font-size="17.5" transform="translate(780.8 819.3) rotate(-90)" textLength="129.3" lengthAdjust="spacingAndGlyphs" stroke="#000">Ocean Data View</text>
<g clip-path="url(#cbp)">
<circle cx="1474.0" cy="108.0" r="4.4" fill="#c058f0"/>
<circle cx="1483.4" cy="119.2" r="4.4" fill="#8030e8"/>
<circle cx="1504.4" cy="113.4" r="4.4" fill="#b850e8"/>
<circle cx="1507.0" cy="125.5" r="4.4" fill="#a038e0"/>
<circle cx="1452.3" cy="127.8" r="4.4" fill="#c060f0"/>
<circle cx="1450.8" cy="140.7" r="4.4" fill="#c060f0"/>
<circle cx="1484.5" cy="135.0" r="4.4" fill="#b850e8"/>
<circle cx="1490.0" cy="145.7" r="4.4" fill="#6030f0"/>
<circle cx="1487.6" cy="149.4" r="4.4" fill="#6030f0"/>
<circle cx="1466.2" cy="159.1" r="4.4" fill="#b048e8"/>
<circle cx="1499.1" cy="161.5" r="4.4" fill="#b048e0"/>
<circle cx="1504.4" cy="160.1" r="4.4" fill="#b048e0"/>
<circle cx="1518.1" cy="165.3" r="4.4" fill="#c058f0"/>
<circle cx="1496.2" cy="174.6" r="4.4" fill="#b850e8"/>
<circle cx="1490.0" cy="180.0" r="4.4" fill="#b850e8"/>
<circle cx="1490.4" cy="186.0" r="4.4" fill="#a038e0"/>
<circle cx="1476.8" cy="191.2" r="4.4" fill="#7828e0"/>
<circle cx="1504.7" cy="195.5" r="4.4" fill="#a840e8"/>
<circle cx="1495.0" cy="201.3" r="4.4" fill="#b850e8"/>
<circle cx="1515.6" cy="201.9" r="4.4" fill="#b858e8"/>
<circle cx="1476.8" cy="203.0" r="4.4" fill="#a038e8"/>
<circle cx="1470.1" cy="207.8" r="4.4" fill="#b050e8"/>
<circle cx="1459.8" cy="210.4" r="4.4" fill="#9838e8"/>
<circle cx="1443.6" cy="203.0" r="4.4" fill="#7028e8"/>
<circle cx="1494.3" cy="211.1" r="4.4" fill="#b850e8"/>
<circle cx="1470.1" cy="219.2" r="4.4" fill="#b850e8"/>
<circle cx="1424.2" cy="217.9" r="4.4" fill="#9838e0"/>
<circle cx="1424.2" cy="220.6" r="4.4" fill="#a040e8"/>
<circle cx="1500.8" cy="224.6" r="4.4" fill="#b858e8"/>
<circle cx="1424.0" cy="232.8" r="4.4" fill="#5848f0"/>
<circle cx="1433.4" cy="229.9" r="4.4" fill="#10d0a0"/>
<circle cx="1452.9" cy="235.9" r="4.4" fill="#10c878"/>
<circle cx="1446.4" cy="241.0" r="4.4" fill="#d81828"/>
<circle cx="1446.8" cy="242.8" r="4.4" fill="#d81828"/>
<circle cx="1461.5" cy="238.5" r="4.4" fill="#1898f0"/>
<circle cx="1462.9" cy="242.8" r="4.4" fill="#1898f0"/>
<circle cx="1488.1" cy="240.0" r="4.4" fill="#b850e8"/>
<circle cx="1504.0" cy="245.3" r="4.4" fill="#b858e8"/>
<circle cx="1495.0" cy="251.0" r="4.4" fill="#9838e8"/>
<circle cx="1484.2" cy="258.2" r="4.4" fill="#b858e8"/>
<circle cx="1491.7" cy="260.1" r="4.4" fill="#b858e8"/>
<circle cx="1446.5" cy="254.4" r="4.4" fill="#5848f0"/>
<circle cx="1529.9" cy="228.5" r="4.4" fill="#4868f0"/>
<circle cx="1528.2" cy="239.8" r="4.4" fill="#10b040"/>
<circle cx="1495.8" cy="275.2" r="4.4" fill="#b858e8"/>
<circle cx="1499.4" cy="275.5" r="4.4" fill="#b858e8"/>
<circle cx="1467.4" cy="279.6" r="4.4" fill="#c060f0"/>
<circle cx="1448.1" cy="278.4" r="4.4" fill="#5858f0"/>
<circle cx="1427.4" cy="283.9" r="4.4" fill="#30a820"/>
<circle cx="1434.3" cy="280.9" r="4.4" fill="#8030f0"/>
<circle cx="1443.6" cy="286.3" r="4.4" fill="#18b8e0"/>
<circle cx="1426.9" cy="297.4" r="4.4" fill="#5848f0"/>
<circle cx="1527.6" cy="290.9" r="4.4" fill="#e81010"/>
<circle cx="1552.7" cy="306.7" r="4.4" fill="#e83c10"/>
<circle cx="1497.6" cy="308.6" r="4.4" fill="#6038f0"/>
<circle cx="1500.1" cy="303.3" r="4.4" fill="#a040f0"/>
<circle cx="1502.0" cy="317.7" r="4.4" fill="#5838f0"/>
<circle cx="1444.9" cy="325.9" r="4.4" fill="#6030f0"/>
<circle cx="1457.3" cy="331.3" r="4.4" fill="#1898f0"/>
<circle cx="1485.3" cy="326.4" r="4.4" fill="#5030e8"/>
<circle cx="1505.6" cy="331.4" r="4.4" fill="#5058f0"/>
<circle cx="1580.2" cy="213.0" r="4.4" fill="#5848f0"/>
<circle cx="1595.2" cy="236.3" r="4.4" fill="#1898f0"/>
<circle cx="1601.0" cy="266.3" r="4.4" fill="#10c898"/>
<circle cx="1479.4" cy="347.0" r="4.4" fill="#9838e8"/>
<circle cx="1502.0" cy="356.4" r="4.4" fill="#b050e8"/>
<circle cx="1505.2" cy="363.1" r="4.4" fill="#a040f0"/>
<circle cx="1484.0" cy="381.1" r="4.4" fill="#fcc010"/>
<circle cx="1486.2" cy="377.2" r="4.4" fill="#b048e8"/>
<circle cx="1479.0" cy="401.0" r="4.4" fill="#f0c010"/>
<circle cx="1488.6" cy="393.8" r="4.4" fill="#b058e8"/>
<circle cx="1498.0" cy="399.8" r="4.4" fill="#9038e8"/>
<circle cx="1501.3" cy="429.8" r="4.4" fill="#7038f0"/>
<circle cx="1508.5" cy="427.2" r="4.4" fill="#b050e0"/>
<circle cx="1503.4" cy="427.6" r="4.4" fill="#1890f0"/>
<circle cx="1535.1" cy="432.0" r="4.4" fill="#6030e8"/>
<circle cx="1537.6" cy="444.2" r="4.4" fill="#a040e8"/>
<circle cx="1520.6" cy="444.2" r="4.4" fill="#2090f0"/>
<circle cx="1515.2" cy="448.4" r="4.4" fill="#b860f0"/>
<circle cx="1504.4" cy="451.8" r="4.4" fill="#a848e8"/>
<circle cx="1502.5" cy="456.6" r="4.4" fill="#a848e8"/>
<circle cx="1505.4" cy="461.6" r="4.4" fill="#a848e8"/>
<circle cx="1510.4" cy="461.3" r="4.4" fill="#a848e8"/>
<circle cx="1511.8" cy="464.5" r="4.4" fill="#a848e8"/>
<circle cx="1509.0" cy="466.6" r="4.4" fill="#a848e8"/>
<circle cx="1509.7" cy="470.5" r="4.4" fill="#a848e8"/>
<circle cx="1497.7" cy="475.6" r="4.4" fill="#b050e8"/>
<circle cx="1511.8" cy="486.4" r="4.4" fill="#7028e0"/>
<circle cx="1501.8" cy="507.7" r="4.4" fill="#b050e8"/>
<circle cx="1541.4" cy="509.8" r="4.4" fill="#6838e8"/>
<circle cx="1548.6" cy="505.2" r="4.4" fill="#6838e8"/>
<circle cx="1510.0" cy="518.2" r="4.4" fill="#b850e8"/>
<circle cx="1516.2" cy="526.0" r="4.4" fill="#5858f0"/>
<circle cx="1512.1" cy="530.0" r="4.4" fill="#a040e8"/>
<circle cx="1515.4" cy="533.6" r="4.4" fill="#a040e8"/>
<circle cx="1522.6" cy="534.8" r="4.4" fill="#b858e8"/>
<circle cx="1507.5" cy="536.5" r="4.4" fill="#7030e8"/>
<circle cx="1507.5" cy="539.7" r="4.4" fill="#7030e8"/>
<circle cx="1519.0" cy="541.5" r="4.4" fill="#9038e0"/>
<circle cx="1548.1" cy="524.2" r="4.4" fill="#b040e0"/>
<circle cx="1546.8" cy="529.6" r="4.4" fill="#10c880"/>
<circle cx="1524.4" cy="556.5" r="4.4" fill="#10c8b8"/>
<circle cx="1521.3" cy="563.2" r="4.4" fill="#6830e8"/>
<circle cx="1547.0" cy="582.1" r="4.4" fill="#5060f0"/>
<circle cx="1553.9" cy="583.1" r="4.4" fill="#2098f0"/>
<circle cx="1557.0" cy="591.0" r="4.4" fill="#18b0e8"/>
<circle cx="1514.1" cy="595.3" r="4.4" fill="#c060f0"/>
<circle cx="1545.1" cy="604.7" r="4.4" fill="#2090f0"/>
<circle cx="1518.6" cy="619.4" r="4.4" fill="#6038e8"/>
<circle cx="1524.4" cy="615.5" r="4.4" fill="#c058f0"/>
<circle cx="1575.6" cy="615.2" r="4.4" fill="#28a820"/>
<circle cx="1575.6" cy="627.7" r="4.4" fill="#28a820"/>
<circle cx="1537.6" cy="628.4" r="4.4" fill="#3088f0"/>
<circle cx="1548.0" cy="639.0" r="4.4" fill="#7038f0"/>
<circle cx="1566.0" cy="641.8" r="4.4" fill="#68b018"/>
<circle cx="1574.8" cy="647.9" r="4.4" fill="#30a820"/>
<circle cx="1564.0" cy="651.2" r="4.4" fill="#80b018"/>
<circle cx="1522.9" cy="653.6" r="4.4" fill="#c060f0"/>
<circle cx="1527.8" cy="649.3" r="4.4" fill="#a848e8"/>
<circle cx="1528.2" cy="658.0" r="4.4" fill="#7030e8"/>
<circle cx="1535.9" cy="661.1" r="4.4" fill="#10c050"/>
<circle cx="1527.5" cy="664.9" r="4.4" fill="#c050f0"/>
<circle cx="1539.0" cy="668.0" r="4.4" fill="#10c8c0"/>
<circle cx="1549.1" cy="667.0" r="4.4" fill="#38b020"/>
<circle cx="1554.5" cy="668.5" r="4.4" fill="#f8c818"/>
<circle cx="1565.7" cy="667.3" r="4.4" fill="#fcb010"/>
<circle cx="1534.6" cy="672.3" r="4.4" fill="#4070f0"/>
<circle cx="1535.2" cy="678.0" r="4.4" fill="#a040e8"/>
<circle cx="1528.6" cy="682.4" r="4.4" fill="#6830e8"/>
<circle cx="1549.4" cy="683.7" r="4.4" fill="#a0c020"/>
<circle cx="1532.3" cy="686.8" r="4.4" fill="#b048e8"/>
<circle cx="1535.8" cy="687.7" r="4.4" fill="#9838e8"/>
<circle cx="1533.5" cy="694.8" r="4.4" fill="#2098f0"/>
<circle cx="1536.7" cy="693.0" r="4.4" fill="#2098f0"/>
<circle cx="1537.0" cy="702.8" r="4.4" fill="#5848f0"/>
<circle cx="1533.2" cy="706.3" r="4.4" fill="#6030e8"/>
<circle cx="1542.0" cy="707.2" r="4.4" fill="#3080e8"/>
<circle cx="1532.6" cy="715.2" r="4.4" fill="#a040f0"/>
<circle cx="1536.2" cy="735.0" r="4.4" fill="#b050f0"/>
<circle cx="1536.2" cy="763.9" r="4.4" fill="#8830f0"/>
<circle cx="1037.4" cy="152.6" r="4.4" fill="#f4b080"/>
<circle cx="1247.4" cy="122.4" r="4.4" fill="#a0c018"/>
<circle cx="1318.6" cy="185.8" r="4.4" fill="#10b0e8"/>
<circle cx="1276.7" cy="213.1" r="4.4" fill="#d82840"/>
<circle cx="1375.5" cy="272.0" r="4.4" fill="#10c888"/>
<line x1="1118.5" y1="49.9" x2="1118.5" y2="814.0" stroke="#949494" stroke-width="1"/>
<line x1="1248.5" y1="49.9" x2="1248.5" y2="814.0" stroke="#949494" stroke-width="1"/>
<line x1="1379.5" y1="49.9" x2="1379.5" y2="814.0" stroke="#949494" stroke-width="1"/>
<line x1="1509.5" y1="49.9" x2="1509.5" y2="814.0" stroke="#949494" stroke-width="1"/>
<line x1="988.3" y1="750.5" x2="1640.0" y2="750.5" stroke="#949494" stroke-width="1"/>
<line x1="988.3" y1="622.5" x2="1640.0" y2="622.5" stroke="#949494" stroke-width="1"/>
<line x1="988.3" y1="495.5" x2="1640.0" y2="495.5" stroke="#949494" stroke-width="1"/>
<line x1="988.3" y1="368.5" x2="1640.0" y2="368.5" stroke="#949494" stroke-width="1"/>
<line x1="988.3" y1="240.5" x2="1640.0" y2="240.5" stroke="#949494" stroke-width="1"/>
<line x1="988.3" y1="113.5" x2="1640.0" y2="113.5" stroke="#e6e6e6" stroke-width="1"/>
<path d="M792.8 826.7 L792.8 822.8 L792.8 818.8 L792.8 814.8 L792.8 810.9 L792.8 806.9 L792.8 802.9 L792.8 799.0 L792.8 795.0 L792.8 791.0 L792.8 787.1 L792.8 783.1 L792.8 779.1 L792.8 775.2 L792.8 771.2 L792.8 767.2 L792.8 763.3 L792.8 759.3 L792.8 755.3 L792.8 751.3 L792.8 747.4 L792.8 743.4 L792.8 739.4 L792.8 735.5 L792.8 731.5 L792.8 727.5 L792.8 723.6 L792.8 719.6 L792.8 715.6 L792.8 711.7 L792.8 707.7 L792.8 703.7 L792.8 699.8 L792.8 695.8 L792.8 691.8 L792.8 687.9 L792.8 683.9 L792.8 679.9 L792.8 676.0 L792.8 672.0 L792.8 668.0 L792.8 664.1 L792.8 660.1 L792.8 656.1 L792.8 652.2 L792.8 648.2 L792.8 644.2 L792.8 640.3 L792.8 636.3 L792.8 632.3 L792.8 628.4 L792.8 624.4 L792.8 620.4 L792.8 616.4 L792.8 612.5 L792.8 608.5 L792.8 604.5 L792.8 600.6 L792.8 596.6 L792.8 592.6 L792.8 588.7 L792.8 584.7 L792.8 580.7 L792.8 576.8 L792.8 572.8 L792.8 568.8 L792.8 564.9 L792.8 560.9 L792.8 556.9 L792.8 553.0 L792.8 549.0 L792.8 545.0 L792.8 541.1 L792.8 537.1 L792.8 533.1 L792.8 529.2 L792.8 525.2 L792.8 521.2 L792.8 517.3 L792.8 513.3 L792.8 509.3 L792.8 505.4 L792.8 501.4 L792.8 497.4 L792.8 493.4 L792.8 489.5 L792.8 485.5 L792.8 481.5 L792.8 477.6 L792.8 473.6 L792.8 469.6 L792.8 465.7 L792.8 461.7 L792.8 457.7 L792.8 453.8 L792.8 449.8 L792.8 445.8 L792.8 441.9 L792.8 437.9 L792.8 433.9 L792.8 430.0 L792.8 426.0 L792.8 422.0 L792.8 418.1 L792.8 414.1 L792.8 410.1 L792.8 406.2 L792.8 402.2 L792.8 398.2 L792.8 394.3 L792.8 390.3 L792.8 386.3 L792.8 382.4 L792.8 378.4 L792.8 374.4 L792.8 370.5 L792.8 366.5 L792.8 362.5 L792.8 358.5 L792.8 354.6 L792.8 350.6 L792.8 346.6 L792.8 342.7 L792.8 338.7 L792.8 334.7 L792.8 330.8 L792.8 326.8 L792.8 322.8 L792.8 318.9 L792.8 314.9 L792.8 310.9 L792.8 307.0 L792.8 303.0 L792.8 299.0 L792.8 295.1 L792.8 291.1 L792.8 287.1 L792.8 283.2 L792.8 279.2 L792.8 275.2 L792.8 271.3 L792.8 267.3 L792.8 263.3 L792.8 259.4 L792.8 255.4 L792.8 251.4 L792.8 247.5 L792.8 243.5 L792.8 239.5 L792.8 235.5 L792.8 231.6 L792.8 227.6 L792.8 223.6 L792.8 219.7 L792.8 215.7 L792.8 211.7 L792.8 207.8 L792.8 203.8 L792.8 199.8 L792.8 195.9 L792.8 191.9 L792.8 187.9 L792.8 184.0 L792.8 180.0 L792.8 176.0 L792.8 172.1 L792.8 168.1 L792.8 164.1 L792.8 160.2 L792.8 156.2 L792.8 152.2 L792.8 148.3 L792.8 144.3 L792.8 140.3 L792.8 136.4 L792.8 132.4 L792.8 128.4 L792.8 124.5 L792.8 120.5 L792.8 116.5 L792.8 112.6 L792.8 108.6 L792.8 104.6 L792.8 100.6 L792.8 96.7 L792.8 92.7 L792.8 88.7 L792.8 84.8 L792.8 80.8 L792.8 76.8 L792.8 72.9 L792.8 68.9 L792.8 64.9 L792.8 61.0 L792.8 57.0 L792.8 53.0 L792.8 49.1 L792.8 45.1 L792.8 41.1 L792.8 37.2" fill="none" stroke="#666666" stroke-width="1"/>
<path d="M792.8 826.7 L792.8 822.8 L792.8 818.8 L792.8 814.8 L792.8 810.9 L792.8 806.9 L792.8 802.9 L792.8 799.0 L792.8 795.0 L792.8 791.0 L792.8 787.1 L792.8 783.1 L792.8 779.1 L792.8 775.2 L792.8 771.2 L792.8 767.2 L792.8 763.3 L792.8 759.3 L792.8 755.3 L792.8 751.3 L792.8 747.4 L792.8 743.4 L792.8 739.4 L792.8 735.5 L792.8 731.5 L792.8 727.5 L792.8 723.6 L792.8 719.6 L792.8 715.6 L792.8 711.7 L792.8 707.7 L792.8 703.7 L792.8 699.8 L792.8 695.8 L792.8 691.8 L792.8 687.9 L792.8 683.9 L792.8 679.9 L792.8 676.0 L792.8 672.0 L792.8 668.0 L792.8 664.1 L792.8 660.1 L792.8 656.1 L792.8 652.2 L792.8 648.2 L792.8 644.2 L792.8 640.3 L792.8 636.3 L792.8 632.3 L792.8 628.4 L792.8 624.4 L792.8 620.4 L792.8 616.4 L792.8 612.5 L792.8 608.5 L792.8 604.5 L792.8 600.6 L792.8 596.6 L792.8 592.6 L792.8 588.7 L792.8 584.7 L792.8 580.7 L792.8 576.8 L792.8 572.8 L792.8 568.8 L792.8 564.9 L792.8 560.9 L792.8 556.9 L792.8 553.0 L792.8 549.0 L792.8 545.0 L792.8 541.1 L792.8 537.1 L792.8 533.1 L792.8 529.2 L792.8 525.2 L792.8 521.2 L792.8 517.3 L792.8 513.3 L792.8 509.3 L792.8 505.4 L792.8 501.4 L792.8 497.4 L792.8 493.4 L792.8 489.5 L792.8 485.5 L792.8 481.5 L792.8 477.6 L792.8 473.6 L792.8 469.6 L792.8 465.7 L792.8 461.7 L792.8 457.7 L792.8 453.8 L792.8 449.8 L792.8 445.8 L792.8 441.9 L792.8 437.9 L792.8 433.9 L792.8 430.0 L792.8 426.0 L792.8 422.0 L792.8 418.1 L792.8 414.1 L792.8 410.1 L792.8 406.2 L792.8 402.2 L792.8 398.2 L792.8 394.3 L792.8 390.3 L792.8 386.3 L792.8 382.4 L792.8 378.4 L792.8 374.4 L792.8 370.5 L792.8 366.5 L792.8 362.5 L792.8 358.5 L792.8 354.6 L792.8 350.6 L792.8 346.6 L792.8 342.7 L792.8 338.7 L792.8 334.7 L792.8 330.8 L792.8 326.8 L792.8 322.8 L792.8 318.9 L792.8 314.9 L792.8 310.9 L792.8 307.0 L792.8 303.0 L792.8 299.0 L792.8 295.1 L792.8 291.1 L792.8 287.1 L792.8 283.2 L792.8 279.2 L792.8 275.2 L792.8 271.3 L792.8 267.3 L792.8 263.3 L792.8 259.4 L792.8 255.4 L792.8 251.4 L792.8 247.5 L792.8 243.5 L792.8 239.5 L792.8 235.5 L792.8 231.6 L792.8 227.6 L792.8 223.6 L792.8 219.7 L792.8 215.7 L795.6 211.7 L799.6 207.8 L803.6 203.8 L807.6 199.8 L811.7 195.9 L815.8 191.9 L819.9 187.9 L824.0 184.0 L828.2 180.0 L832.3 176.0 L836.5 172.1 L840.7 168.1 L844.9 164.1 L849.1 160.2 L853.4 156.2 L857.7 152.2 L862.0 148.3 L866.3 144.3 L870.6 140.3 L875.0 136.4 L879.3 132.4 L883.7 128.4 L888.1 124.5 L892.5 120.5 L897.0 116.5 L901.4 112.6 L905.9 108.6 L910.4 104.6 L914.9 100.6 L919.4 96.7 L924.0 92.7 L928.6 88.7 L933.1 84.8 L937.8 80.8 L942.4 76.8 L947.0 72.9 L951.7 68.9 L956.3 64.9 L961.0 61.0 L965.7 57.0 L970.5 53.0 L975.2 49.1 L980.0 45.1 L984.8 41.1 L989.6 37.2" fill="none" stroke="#666666" stroke-width="1"/>
<path d="M792.8 826.7 L792.8 822.8 L792.8 818.8 L792.8 814.8 L792.8 810.9 L792.8 806.9 L792.8 802.9 L792.8 799.0 L792.8 795.0 L792.8 791.0 L792.8 787.1 L792.8 783.1 L792.8 779.1 L792.8 775.2 L792.8 771.2 L792.8 767.2 L792.8 763.3 L792.8 759.3 L792.8 755.3 L792.8 751.3 L792.8 747.4 L792.8 743.4 L792.8 739.4 L792.8 735.5 L792.8 731.5 L792.8 727.5 L792.8 723.6 L792.8 719.6 L792.8 715.6 L792.8 711.7 L792.8 707.7 L792.8 703.7 L792.8 699.8 L792.8 695.8 L792.8 691.8 L792.8 687.9 L792.8 683.9 L792.8 679.9 L792.8 676.0 L792.8 672.0 L792.8 668.0 L792.8 664.1 L792.8 660.1 L792.8 656.1 L792.8 652.2 L792.8 648.2 L792.8 644.2 L792.8 640.3 L792.8 636.3 L792.8 632.3 L792.8 628.4 L792.8 624.4 L792.8 620.4 L792.8 616.4 L792.8 612.5 L792.8 608.5 L792.8 604.5 L792.8 600.6 L792.8 596.6 L792.8 592.6 L792.8 588.7 L792.8 584.7 L792.8 580.7 L792.8 576.8 L792.8 572.8 L792.8 568.8 L792.8 564.9 L792.8 560.9 L792.8 556.9 L792.8 553.0 L792.8 549.0 L792.8 545.0 L792.8 541.1 L792.8 537.1 L792.8 533.1 L792.8 529.2 L792.8 525.2 L792.8 521.2 L792.8 517.3 L792.8 513.3 L792.8 509.3 L792.8 505.4 L792.8 501.4 L792.8 497.4 L792.8 493.4 L792.8 489.5 L792.8 485.5 L792.8 481.5 L792.8 477.6 L792.8 473.6 L792.8 469.6 L794.9 465.7 L797.6 461.7 L800.4 457.7 L803.2 453.8 L806.0 449.8 L808.8 445.8 L811.7 441.9 L814.5 437.9 L817.4 433.9 L820.3 430.0 L823.3 426.0 L826.2 422.0 L829.2 418.1 L832.2 414.1 L835.2 410.1 L838.3 406.2 L841.4 402.2 L844.4 398.2 L847.6 394.3 L850.7 390.3 L853.8 386.3 L857.0 382.4 L860.2 378.4 L863.4 374.4 L866.7 370.5 L869.9 366.5 L873.2 362.5 L876.5 358.5 L879.8 354.6 L883.2 350.6 L886.5 346.6 L889.9 342.7 L893.3 338.7 L896.7 334.7 L900.2 330.8 L903.7 326.8 L907.1 322.8 L910.7 318.9 L914.2 314.9 L917.7 310.9 L921.3 307.0 L924.9 303.0 L928.5 299.0 L932.1 295.1 L935.8 291.1 L939.4 287.1 L943.1 283.2 L946.8 279.2 L950.6 275.2 L954.3 271.3 L958.1 267.3 L961.9 263.3 L965.7 259.4 L969.5 255.4 L973.4 251.4 L977.2 247.5 L981.1 243.5 L985.0 239.5 L988.9 235.5 L992.9 231.6 L996.8 227.6 L1000.8 223.6 L1004.8 219.7 L1008.9 215.7 L1012.9 211.7 L1017.0 207.8 L1021.0 203.8 L1025.1 199.8 L1029.2 195.9 L1033.4 191.9 L1037.5 187.9 L1041.7 184.0 L1045.9 180.0 L1050.1 176.0 L1054.3 172.1 L1058.6 168.1 L1062.8 164.1 L1067.1 160.2 L1071.4 156.2 L1075.8 152.2 L1080.1 148.3 L1084.5 144.3 L1088.8 140.3 L1093.2 136.4 L1097.6 132.4 L1102.1 128.4 L1106.5 124.5 L1111.0 120.5 L1115.5 116.5 L1120.0 112.6 L1124.5 108.6 L1129.0 104.6 L1133.6 100.6 L1138.2 96.7 L1142.8 92.7 L1147.4 88.7 L1152.0 84.8 L1156.6 80.8 L1161.3 76.8 L1166.0 72.9 L1170.7 68.9 L1175.4 64.9 L1180.1 61.0 L1184.9 57.0 L1189.7 53.0 L1194.4 49.1 L1199.2 45.1 L1204.1 41.1 L1208.9 37.2" fill="none" stroke="#666666" stroke-width="1"/>
<path d="M852.1 826.7 L852.6 822.8 L853.2 818.8 L853.8 814.8 L854.4 810.9 L855.0 806.9 L855.7 802.9 L856.4 799.0 L857.1 795.0 L857.9 791.0 L858.7 787.1 L859.5 783.1 L860.3 779.1 L861.2 775.2 L862.1 771.2 L863.0 767.2 L864.0 763.3 L865.0 759.3 L866.0 755.3 L867.0 751.3 L868.1 747.4 L869.1 743.4 L870.3 739.4 L871.4 735.5 L872.6 731.5 L873.8 727.5 L875.0 723.6 L876.2 719.6 L877.5 715.6 L878.8 711.7 L880.1 707.7 L881.5 703.7 L882.9 699.8 L884.3 695.8 L885.7 691.8 L887.2 687.9 L888.7 683.9 L890.2 679.9 L891.7 676.0 L893.3 672.0 L894.8 668.0 L896.5 664.1 L898.1 660.1 L899.8 656.1 L901.4 652.2 L903.2 648.2 L904.9 644.2 L906.7 640.3 L908.4 636.3 L910.3 632.3 L912.1 628.4 L914.0 624.4 L915.8 620.4 L917.8 616.4 L919.7 612.5 L921.7 608.5 L923.6 604.5 L925.6 600.6 L927.7 596.6 L929.7 592.6 L931.8 588.7 L933.9 584.7 L936.0 580.7 L938.2 576.8 L940.4 572.8 L942.6 568.8 L944.8 564.9 L947.0 560.9 L949.3 556.9 L951.6 553.0 L953.9 549.0 L956.3 545.0 L958.6 541.1 L961.0 537.1 L963.4 533.1 L965.9 529.2 L968.3 525.2 L970.8 521.2 L973.3 517.3 L975.8 513.3 L978.4 509.3 L980.9 505.4 L983.5 501.4 L986.1 497.4 L988.8 493.4 L991.4 489.5 L994.1 485.5 L996.8 481.5 L999.6 477.6 L1002.3 473.6 L1005.1 469.6 L1007.9 465.7 L1010.7 461.7 L1013.5 457.7 L1016.4 453.8 L1019.3 449.8 L1022.2 445.8 L1025.1 441.9 L1028.0 437.9 L1031.0 433.9 L1034.0 430.0 L1037.0 426.0 L1040.0 422.0 L1043.1 418.1 L1046.2 414.1 L1049.2 410.1 L1052.4 406.2 L1055.5 402.2 L1058.7 398.2 L1061.8 394.3 L1065.0 390.3 L1068.3 386.3 L1071.5 382.4 L1074.8 378.4 L1078.0 374.4 L1081.3 370.5 L1084.7 366.5 L1088.0 362.5 L1091.4 358.5 L1094.8 354.6 L1098.2 350.6 L1101.6 346.6 L1105.1 342.7 L1108.5 338.7 L1112.0 334.7 L1115.5 330.8 L1119.0 326.8 L1122.6 322.8 L1126.2 318.9 L1129.7 314.9 L1133.4 310.9 L1137.0 307.0 L1140.6 303.0 L1144.3 299.0 L1148.0 295.1 L1151.7 291.1 L1155.4 287.1" fill="none" stroke="#666666" stroke-width="1"/>
<path d="M1201.7 239.5 L1205.6 235.5 L1209.6 231.6 L1213.7 227.6 L1217.7 223.6 L1221.7 219.7 L1225.8 215.7 L1229.9 211.7 L1234.0 207.8 L1238.1 203.8 L1242.3 199.8 L1246.5 195.9 L1250.6 191.9 L1254.9 187.9 L1259.1 184.0 L1263.3 180.0 L1267.6 176.0 L1271.8 172.1 L1276.1 168.1 L1280.5 164.1 L1284.8 160.2 L1289.1 156.2 L1293.5 152.2 L1297.9 148.3 L1302.3 144.3 L1306.7 140.3 L1311.2 136.4 L1315.6 132.4 L1320.1 128.4 L1324.6 124.5 L1329.1 120.5 L1333.6 116.5 L1338.2 112.6 L1342.7 108.6 L1347.3 104.6 L1351.9 100.6 L1356.5 96.7 L1361.2 92.7 L1365.8 88.7 L1370.5 84.8 L1375.2 80.8 L1379.9 76.8 L1384.6 72.9 L1389.3 68.9 L1394.1 64.9 L1398.9 61.0 L1403.7 57.0 L1408.5 53.0 L1413.3 49.1 L1418.1 45.1 L1423.0 41.1 L1427.9 37.2" fill="none" stroke="#666666" stroke-width="1"/>
<path d="M1056.0 826.7 L1056.6 822.8 L1057.3 818.8 L1058.0 814.8 L1058.8 810.9 L1059.5 806.9 L1060.3 802.9 L1061.1 799.0 L1062.0 795.0 L1062.9 791.0 L1063.8 787.1 L1064.7 783.1 L1065.6 779.1 L1066.6 775.2 L1067.6 771.2 L1068.7 767.2 L1069.7 763.3 L1070.8 759.3 L1072.0 755.3 L1073.1 751.3 L1074.3 747.4 L1075.5 743.4 L1076.7 739.4 L1077.9 735.5 L1079.2 731.5 L1080.5 727.5 L1081.9 723.6 L1083.2 719.6 L1084.6 715.6 L1086.0 711.7 L1087.4 707.7 L1088.9 703.7 L1090.4 699.8 L1091.9 695.8 L1093.4 691.8 L1095.0 687.9 L1096.6 683.9 L1098.2 679.9 L1099.8 676.0 L1101.5 672.0 L1103.2 668.0 L1104.9 664.1 L1106.6 660.1 L1108.4 656.1 L1110.2 652.2 L1112.0 648.2 L1113.8 644.2 L1115.7 640.3 L1117.5 636.3 L1119.5 632.3 L1121.4 628.4 L1123.3 624.4 L1125.3 620.4 L1127.3 616.4 L1129.4 612.5 L1131.4 608.5 L1133.5 604.5 L1135.6 600.6 L1137.7 596.6 L1139.8 592.6 L1142.0 588.7 L1144.2 584.7 L1146.4 580.7 L1148.7 576.8 L1150.9 572.8 L1153.2 568.8 L1155.5 564.9 L1157.9 560.9 L1160.2 556.9 L1162.6 553.0 L1165.0 549.0 L1167.4 545.0 L1169.9 541.1 L1172.3 537.1 L1174.8 533.1 L1177.3 529.2 L1179.9 525.2 L1182.4 521.2 L1185.0 517.3 L1187.6 513.3 L1190.3 509.3 L1192.9 505.4 L1195.6 501.4 L1198.3 497.4 L1201.0 493.4 L1203.7 489.5 L1206.5 485.5 L1209.3 481.5 L1212.1 477.6 L1214.9 473.6 L1217.7 469.6 L1220.6 465.7 L1223.5 461.7 L1226.4 457.7 L1229.3 453.8 L1232.3 449.8 L1235.3 445.8 L1238.3 441.9 L1241.3 437.9 L1244.3 433.9 L1247.4 430.0 L1250.4 426.0 L1253.5 422.0 L1256.7 418.1 L1259.8 414.1 L1263.0 410.1 L1266.2 406.2 L1269.4 402.2 L1272.6 398.2 L1275.8 394.3 L1279.1 390.3 L1282.4 386.3 L1285.7 382.4 L1289.0 378.4 L1292.4 374.4 L1295.7 370.5 L1299.1 366.5 L1302.5 362.5 L1306.0 358.5 L1309.4 354.6 L1312.9 350.6 L1316.4 346.6 L1319.9 342.7 L1323.4 338.7 L1327.0 334.7 L1330.5 330.8 L1334.1 326.8 L1337.7 322.8 L1341.4 318.9 L1345.0 314.9 L1348.7 310.9 L1352.4 307.0 L1356.1 303.0 L1359.8 299.0 L1363.5 295.1 L1367.3 291.1 L1371.1 287.1 L1374.9 283.2 L1378.7 279.2 L1382.5 275.2 L1386.4 271.3 L1390.3 267.3 L1394.2 263.3 L1398.1 259.4 L1402.0 255.4 L1406.0 251.4 L1410.0 247.5 L1414.0 243.5 L1418.0 239.5 L1422.0 235.5 L1426.0 231.6 L1430.1 227.6 L1434.2 223.6 L1438.3 219.7 L1442.4 215.7 L1446.6 211.7 L1450.7 207.8 L1454.9 203.8 L1459.1 199.8 L1463.3 195.9 L1467.6 191.9 L1471.8 187.9 L1476.1 184.0 L1480.4 180.0 L1484.7 176.0 L1489.0 172.1 L1493.3 168.1 L1497.7 164.1 L1502.1 160.2 L1506.5 156.2 L1510.9 152.2 L1515.3 148.3 L1519.8 144.3 L1524.2 140.3 L1528.7 136.4 L1533.2 132.4 L1537.7 128.4 L1542.3 124.5 L1546.8 120.5 L1551.4 116.5 L1556.0 112.6 L1560.6 108.6 L1565.2 104.6 L1569.9 100.6 L1574.5 96.7 L1579.2 92.7 L1583.9 88.7 L1588.6 84.8 L1593.3 80.8" fill="none" stroke="#666666" stroke-width="1"/>
<path d="M1631.8 49.1 L1636.6 45.1 L1641.5 41.1 L1646.4 37.2" fill="none" stroke="#666666" stroke-width="1"/>
<path d="M1259.7 826.7 L1260.5 822.8 L1261.3 818.8 L1262.1 814.8 L1263.0 810.9 L1263.9 806.9 L1264.8 802.9 L1265.7 799.0 L1266.7 795.0 L1267.7 791.0 L1268.7 787.1 L1269.7 783.1 L1270.8 779.1 L1271.9 775.2 L1273.0 771.2 L1274.2 767.2 L1275.4 763.3 L1276.6 759.3 L1277.8 755.3 L1279.1 751.3 L1280.3 747.4 L1281.6 743.4 L1283.0 739.4 L1284.3 735.5 L1285.7 731.5 L1287.1 727.5 L1288.6 723.6 L1290.0 719.6 L1291.5 715.6 L1293.0 711.7 L1294.6 707.7 L1296.1 703.7 L1297.7 699.8 L1299.3 695.8 L1301.0 691.8 L1302.6 687.9 L1304.3 683.9 L1306.0 679.9 L1307.7 676.0 L1309.5 672.0 L1311.3 668.0 L1313.1 664.1 L1314.9 660.1 L1316.8 656.1 L1318.7 652.2 L1320.6 648.2 L1322.5 644.2 L1324.5 640.3 L1326.4 636.3 L1328.4 632.3 L1330.5 628.4 L1332.5 624.4 L1334.6 620.4 L1336.7 616.4 L1338.8 612.5 L1340.9 608.5 L1343.1 604.5 L1345.3 600.6 L1347.5 596.6 L1349.7 592.6 L1352.0 588.7 L1354.3 584.7 L1356.6 580.7 L1358.9 576.8 L1361.2 572.8 L1363.6 568.8 L1366.0 564.9 L1368.4 560.9 L1370.9 556.9 L1373.3 553.0 L1375.8 549.0 L1378.3 545.0 L1380.8 541.1 L1383.4 537.1 L1386.0 533.1 L1388.6 529.2 L1391.2 525.2" fill="none" stroke="#666666" stroke-width="1"/>
<path d="M1433.0 465.7 L1436.0 461.7 L1439.0 457.7 L1442.0 453.8 L1445.0 449.8 L1448.0 445.8 L1451.1 441.9 L1454.2 437.9 L1457.3 433.9 L1460.4 430.0 L1463.6 426.0 L1466.8 422.0 L1469.9 418.1 L1473.2 414.1 L1476.4 410.1 L1479.6 406.2 L1482.9 402.2 L1486.2 398.2 L1489.5 394.3 L1492.8 390.3 L1496.2 386.3 L1499.6 382.4 L1503.0 378.4 L1506.4 374.4 L1509.8 370.5 L1513.2 366.5 L1516.7 362.5 L1520.2 358.5 L1523.7 354.6 L1527.2 350.6 L1530.8 346.6 L1534.4 342.7 L1538.0 338.7 L1541.6 334.7 L1545.2 330.8 L1548.8 326.8 L1552.5 322.8 L1556.2 318.9 L1559.9 314.9 L1563.6 310.9 L1567.4 307.0 L1571.1 303.0 L1574.9 299.0 L1578.7 295.1 L1582.5 291.1 L1586.4 287.1 L1590.2 283.2 L1594.1 279.2 L1598.0 275.2 L1601.9 271.3 L1605.8 267.3 L1609.8 263.3 L1613.8 259.4 L1617.8 255.4 L1621.8 251.4 L1625.8 247.5 L1629.8 243.5 L1633.9 239.5 L1638.0 235.5 L1642.1 231.6 L1646.2 227.6 L1650.3 223.6 L1654.5 219.7 L1658.7 215.7 L1662.8 211.7 L1667.1 207.8 L1671.3 203.8 L1675.5 199.8 L1679.8 195.9 L1684.1 191.9 L1688.4 187.9 L1692.7 184.0 L1697.0 180.0 L1701.4 176.0 L1705.7 172.1 L1710.1 168.1 L1714.5 164.1 L1719.0 160.2 L1723.4 156.2 L1727.9 152.2 L1732.3 148.3 L1736.8 144.3 L1741.3 140.3 L1745.9 136.4 L1750.4 132.4 L1755.0 128.4 L1759.6 124.5 L1764.2 120.5 L1768.8 116.5 L1773.4 112.6 L1778.0 108.6 L1782.7 104.6 L1787.4 100.6 L1792.1 96.7 L1796.8 92.7 L1801.5 88.7 L1806.3 84.8 L1811.1 80.8 L1815.8 76.8 L1820.6 72.9 L1825.5 68.9 L1830.3 64.9 L1835.1 61.0 L1835.5 57.0 L1835.5 53.0 L1835.5 49.1 L1835.5 45.1 L1835.5 41.1 L1835.5 37.2" fill="none" stroke="#666666" stroke-width="1"/>
<path d="M1463.4 826.7 L1464.3 822.8 L1465.2 818.8 L1466.1 814.8 L1467.1 810.9 L1468.1 806.9 L1469.1 802.9 L1470.2 799.0 L1471.2 795.0 L1472.3 791.0 L1473.5 787.1 L1474.6 783.1 L1475.8 779.1 L1477.0 775.2 L1478.3 771.2 L1479.5 767.2 L1480.8 763.3 L1482.1 759.3 L1483.5 755.3 L1484.8 751.3 L1486.2 747.4 L1487.6 743.4 L1489.1 739.4 L1490.5 735.5 L1492.0 731.5 L1493.5 727.5 L1495.1 723.6 L1496.6 719.6 L1498.2 715.6 L1499.8 711.7 L1501.5 707.7 L1503.1 703.7 L1504.8 699.8 L1506.5 695.8 L1508.3 691.8 L1510.0 687.9 L1511.8 683.9 L1513.6 679.9 L1515.4 676.0 L1517.3 672.0 L1519.2 668.0 L1521.1 664.1 L1523.0 660.1 L1525.0 656.1 L1526.9 652.2 L1528.9 648.2 L1531.0 644.2 L1533.0 640.3 L1535.1 636.3 L1537.2 632.3 L1539.3 628.4 L1541.4 624.4 L1543.6 620.4 L1545.8 616.4 L1548.0 612.5 L1550.2 608.5 L1552.5 604.5 L1554.7 600.6 L1557.0 596.6 L1559.3 592.6 L1561.7 588.7 L1564.1 584.7 L1566.4 580.7 L1568.9 576.8 L1571.3 572.8 L1573.7 568.8 L1576.2 564.9 L1578.7 560.9 L1581.2 556.9 L1583.8 553.0 L1586.3 549.0 L1588.9 545.0 L1591.5 541.1 L1594.2 537.1 L1596.8 533.1 L1599.5 529.2 L1602.2 525.2 L1604.9 521.2 L1607.6 517.3 L1610.4 513.3 L1613.2 509.3 L1616.0 505.4 L1618.8 501.4 L1621.6 497.4 L1624.5 493.4 L1627.4 489.5 L1630.3 485.5 L1633.2 481.5 L1636.2 477.6 L1639.2 473.6 L1642.1 469.6 L1645.2 465.7 L1648.2 461.7 L1651.2 457.7 L1654.3 453.8 L1657.4 449.8 L1660.5 445.8 L1663.6 441.9 L1666.8 437.9 L1670.0 433.9 L1673.2 430.0 L1676.4 426.0 L1679.6 422.0 L1682.9 418.1 L1686.2 414.1 L1689.4 410.1 L1692.8 406.2 L1696.1 402.2 L1699.5 398.2 L1702.8 394.3 L1706.2 390.3 L1709.6 386.3 L1713.1 382.4 L1716.5 378.4 L1720.0 374.4 L1723.5 370.5 L1727.0 366.5 L1730.5 362.5 L1734.1 358.5 L1737.7 354.6 L1741.2 350.6 L1744.9 346.6 L1748.5 342.7 L1752.1 338.7 L1755.8 334.7 L1759.5 330.8 L1763.2 326.8 L1766.9 322.8 L1770.7 318.9 L1774.4 314.9 L1778.2 310.9 L1782.0 307.0 L1785.8 303.0 L1789.6 299.0 L1793.5 295.1 L1797.4 291.1 L1801.3 287.1 L1805.2 283.2 L1809.1 279.2 L1813.1 275.2 L1817.0 271.3 L1821.0 267.3 L1825.0 263.3 L1829.0 259.4 L1833.1 255.4 L1835.5 251.4 L1835.5 247.5 L1835.5 243.5 L1835.5 239.5 L1835.5 235.5 L1835.5 231.6 L1835.5 227.6 L1835.5 223.6 L1835.5 219.7 L1835.5 215.7 L1835.5 211.7 L1835.5 207.8 L1835.5 203.8 L1835.5 199.8 L1835.5 195.9 L1835.5 191.9 L1835.5 187.9 L1835.5 184.0 L1835.5 180.0 L1835.5 176.0 L1835.5 172.1 L1835.5 168.1 L1835.5 164.1 L1835.5 160.2 L1835.5 156.2 L1835.5 152.2 L1835.5 148.3 L1835.5 144.3 L1835.5 140.3 L1835.5 136.4 L1835.5 132.4 L1835.5 128.4 L1835.5 124.5 L1835.5 120.5 L1835.5 116.5 L1835.5 112.6 L1835.5 108.6 L1835.5 104.6 L1835.5 100.6 L1835.5 96.7 L1835.5 92.7 L1835.5 88.7 L1835.5 84.8 L1835.5 80.8 L1835.5 76.8 L1835.5 72.9 L1835.5 68.9 L1835.5 64.9 L1835.5 61.0 L1835.5 57.0 L1835.5 53.0 L1835.5 49.1 L1835.5 45.1 L1835.5 41.1 L1835.5 37.2" fill="none" stroke="#666666" stroke-width="1"/>
<path d="M1666.8 826.7 L1667.8 822.8 L1668.8 818.8 L1669.9 814.8 L1671.0 810.9 L1672.1 806.9 L1673.2 802.9 L1674.4 799.0 L1675.6 795.0 L1676.8 791.0 L1678.1 787.1 L1679.3 783.1 L1680.6 779.1 L1681.9 775.2 L1683.3 771.2 L1684.6 767.2 L1686.0 763.3 L1687.5 759.3 L1688.9 755.3 L1690.4 751.3 L1691.9 747.4 L1693.4 743.4 L1694.9 739.4 L1696.5 735.5 L1698.1 731.5 L1699.7 727.5 L1701.3 723.6 L1703.0 719.6 L1704.7 715.6 L1706.4 711.7 L1708.1 707.7 L1709.9 703.7 L1711.7 699.8 L1713.5 695.8 L1715.3 691.8 L1717.2 687.9 L1719.1 683.9 L1721.0 679.9 L1722.9 676.0 L1724.8 672.0 L1726.8 668.0 L1728.8 664.1 L1730.8 660.1 L1732.9 656.1 L1734.9 652.2 L1737.0 648.2 L1739.2 644.2 L1741.3 640.3 L1743.4 636.3 L1745.6 632.3 L1747.8 628.4 L1750.1 624.4 L1752.3 620.4 L1754.6 616.4 L1756.9 612.5 L1759.2 608.5 L1761.5 604.5 L1763.9 600.6 L1766.3 596.6 L1768.7 592.6 L1771.1 588.7 L1773.5 584.7 L1776.0 580.7 L1778.5 576.8 L1781.0 572.8 L1783.6 568.8 L1786.1 564.9 L1788.7 560.9 L1791.3 556.9 L1793.9 553.0 L1796.6 549.0 L1799.2 545.0 L1801.9 541.1 L1804.6 537.1 L1807.3 533.1 L1810.1 529.2 L1812.9 525.2 L1815.7 521.2 L1818.5 517.3 L1821.3 513.3 L1824.2 509.3 L1827.0 505.4 L1829.9 501.4 L1832.8 497.4 L1835.5 493.4 L1835.5 489.5 L1835.5 485.5 L1835.5 481.5 L1835.5 477.6 L1835.5 473.6 L1835.5 469.6 L1835.5 465.7 L1835.5 461.7 L1835.5 457.7 L1835.5 453.8 L1835.5 449.8 L1835.5 445.8 L1835.5 441.9 L1835.5 437.9 L1835.5 433.9 L1835.5 430.0 L1835.5 426.0 L1835.5 422.0 L1835.5 418.1 L1835.5 414.1 L1835.5 410.1 L1835.5 406.2 L1835.5 402.2 L1835.5 398.2 L1835.5 394.3 L1835.5 390.3 L1835.5 386.3 L1835.5 382.4 L1835.5 378.4 L1835.5 374.4 L1835.5 370.5 L1835.5 366.5 L1835.5 362.5 L1835.5 358.5 L1835.5 354.6 L1835.5 350.6 L1835.5 346.6 L1835.5 342.7 L1835.5 338.7 L1835.5 334.7 L1835.5 330.8 L1835.5 326.8 L1835.5 322.8 L1835.5 318.9 L1835.5 314.9 L1835.5 310.9 L1835.5 307.0 L1835.5 303.0 L1835.5 299.0 L1835.5 295.1 L1835.5 291.1 L1835.5 287.1 L1835.5 283.2 L1835.5 279.2 L1835.5 275.2 L1835.5 271.3 L1835.5 267.3 L1835.5 263.3 L1835.5 259.4 L1835.5 255.4 L1835.5 251.4 L1835.5 247.5 L1835.5 243.5 L1835.5 239.5 L1835.5 235.5 L1835.5 231.6 L1835.5 227.6 L1835.5 223.6 L1835.5 219.7 L1835.5 215.7 L1835.5 211.7 L1835.5 207.8 L1835.5 203.8 L1835.5 199.8 L1835.5 195.9 L1835.5 191.9 L1835.5 187.9 L1835.5 184.0 L1835.5 180.0 L1835.5 176.0 L1835.5 172.1 L1835.5 168.1 L1835.5 164.1 L1835.5 160.2 L1835.5 156.2 L1835.5 152.2 L1835.5 148.3 L1835.5 144.3 L1835.5 140.3 L1835.5 136.4 L1835.5 132.4 L1835.5 128.4 L1835.5 124.5 L1835.5 120.5 L1835.5 116.5 L1835.5 112.6 L1835.5 108.6 L1835.5 104.6 L1835.5 100.6 L1835.5 96.7 L1835.5 92.7 L1835.5 88.7 L1835.5 84.8 L1835.5 80.8 L1835.5 76.8 L1835.5 72.9 L1835.5 68.9 L1835.5 64.9 L1835.5 61.0 L1835.5 57.0 L1835.5 53.0 L1835.5 49.1 L1835.5 45.1 L1835.5 41.1 L1835.5 37.2" fill="none" stroke="#666666" stroke-width="1"/>
<path d="M1835.5 826.7 L1835.5 822.8 L1835.5 818.8 L1835.5 814.8 L1835.5 810.9 L1835.5 806.9 L1835.5 802.9 L1835.5 799.0 L1835.5 795.0 L1835.5 791.0 L1835.5 787.1 L1835.5 783.1 L1835.5 779.1 L1835.5 775.2 L1835.5 771.2 L1835.5 767.2 L1835.5 763.3 L1835.5 759.3 L1835.5 755.3 L1835.5 751.3 L1835.5 747.4 L1835.5 743.4 L1835.5 739.4 L1835.5 735.5 L1835.5 731.5 L1835.5 727.5 L1835.5 723.6 L1835.5 719.6 L1835.5 715.6 L1835.5 711.7 L1835.5 707.7 L1835.5 703.7 L1835.5 699.8 L1835.5 695.8 L1835.5 691.8 L1835.5 687.9 L1835.5 683.9 L1835.5 679.9 L1835.5 676.0 L1835.5 672.0 L1835.5 668.0 L1835.5 664.1 L1835.5 660.1 L1835.5 656.1 L1835.5 652.2 L1835.5 648.2 L1835.5 644.2 L1835.5 640.3 L1835.5 636.3 L1835.5 632.3 L1835.5 628.4 L1835.5 624.4 L1835.5 620.4 L1835.5 616.4 L1835.5 612.5 L1835.5 608.5 L1835.5 604.5 L1835.5 600.6 L1835.5 596.6 L1835.5 592.6 L1835.5 588.7 L1835.5 584.7 L1835.5 580.7 L1835.5 576.8 L1835.5 572.8 L1835.5 568.8 L1835.5 564.9 L1835.5 560.9 L1835.5 556.9 L1835.5 553.0 L1835.5 549.0 L1835.5 545.0 L1835.5 541.1 L1835.5 537.1 L1835.5 533.1 L1835.5 529.2 L1835.5 525.2 L1835.5 521.2 L1835.5 517.3 L1835.5 513.3 L1835.5 509.3 L1835.5 505.4 L1835.5 501.4 L1835.5 497.4 L1835.5 493.4 L1835.5 489.5 L1835.5 485.5 L1835.5 481.5 L1835.5 477.6 L1835.5 473.6 L1835.5 469.6 L1835.5 465.7 L1835.5 461.7 L1835.5 457.7 L1835.5 453.8 L1835.5 449.8 L1835.5 445.8 L1835.5 441.9 L1835.5 437.9 L1835.5 433.9 L1835.5 430.0 L1835.5 426.0 L1835.5 422.0 L1835.5 418.1 L1835.5 414.1 L1835.5 410.1 L1835.5 406.2 L1835.5 402.2 L1835.5 398.2 L1835.5 394.3 L1835.5 390.3 L1835.5 386.3 L1835.5 382.4 L1835.5 378.4 L1835.5 374.4 L1835.5 370.5 L1835.5 366.5 L1835.5 362.5 L1835.5 358.5 L1835.5 354.6 L1835.5 350.6 L1835.5 346.6 L1835.5 342.7 L1835.5 338.7 L1835.5 334.7 L1835.5 330.8 L1835.5 326.8 L1835.5 322.8 L1835.5 318.9 L1835.5 314.9 L1835.5 310.9 L1835.5 307.0 L1835.5 303.0 L1835.5 299.0 L1835.5 295.1 L1835.5 291.1 L1835.5 287.1 L1835.5 283.2 L1835.5 279.2 L1835.5 275.2 L1835.5 271.3 L1835.5 267.3 L1835.5 263.3 L1835.5 259.4 L1835.5 255.4 L1835.5 251.4 L1835.5 247.5 L1835.5 243.5 L1835.5 239.5 L1835.5 235.5 L1835.5 231.6 L1835.5 227.6 L1835.5 223.6 L1835.5 219.7 L1835.5 215.7 L1835.5 211.7 L1835.5 207.8 L1835.5 203.8 L1835.5 199.8 L1835.5 195.9 L1835.5 191.9 L1835.5 187.9 L1835.5 184.0 L1835.5 180.0 L1835.5 176.0 L1835.5 172.1 L1835.5 168.1 L1835.5 164.1 L1835.5 160.2 L1835.5 156.2 L1835.5 152.2 L1835.5 148.3 L1835.5 144.3 L1835.5 140.3 L1835.5 136.4 L1835.5 132.4 L1835.5 128.4 L1835.5 124.5 L1835.5 120.5 L1835.5 116.5 L1835.5 112.6 L1835.5 108.6 L1835.5 104.6 L1835.5 100.6 L1835.5 96.7 L1835.5 92.7 L1835.5 88.7 L1835.5 84.8 L1835.5 80.8 L1835.5 76.8 L1835.5 72.9 L1835.5 68.9 L1835.5 64.9 L1835.5 61.0 L1835.5 57.0 L1835.5 53.0 L1835.5 49.1 L1835.5 45.1 L1835.5 41.1 L1835.5 37.2" fill="none" stroke="#666666" stroke-width="1"/>
<text class="s" x="1178.5" y="262.0" font-size="24.0" fill="#747474" text-anchor="middle" transform="rotate(-49 1178.5 262.0)" dy="8.5">17.5</text>
<text class="s" x="1611.8" y="62.8" font-size="22.5" fill="#747474" text-anchor="middle" transform="rotate(-50 1611.8 62.8)" dy="8.0">20</text>
<text class="s" x="1410.5" y="494.5" font-size="24.0" fill="#747474" text-anchor="middle" transform="rotate(-58 1410.5 494.5)" dy="8.5">22.5</text>
</g>
<line x1="1380.8" y1="49.9" x2="1380.8" y2="624.6" stroke="#d00000" stroke-width="3.5"/>
<line x1="988.3" y1="623.2" x2="1640.0" y2="623.2" stroke="#3b69c0" stroke-width="3.1"/>
<line x1="1543.8" y1="625" x2="1543.8" y2="814.0" stroke="#3b69c0" stroke-width="3.4" stroke-dasharray="9 3.4"/>
<ellipse cx="1593.8" cy="218.2" rx="30.2" ry="22.7" transform="rotate(39 1593.8 218.2)" fill="none" stroke="#000" stroke-width="1.7" stroke-dasharray="6 2.5"/>
<ellipse cx="1569" cy="279.7" rx="73.5" ry="39.3" transform="rotate(41 1569 279.7)" fill="none" stroke="#c00000" stroke-width="1.7" stroke-dasharray="5.5 2.5"/>
<path d="M1598.3 166.5 L1595 185" fill="none" stroke="#000" stroke-width="2" stroke-dasharray="5 2.5"/>
<path d="M1589.6 183.2 L1598.8 185 L1593.4 193.2 Z" fill="#000"/>
<path d="M987.3 48.9 H1640.9 V815.3 H987.3 Z M989.2 50.8 V812.8 H1639.0 V50.8 Z" fill="#000" fill-rule="evenodd"/>
<line x1="988.5" y1="814.0" x2="988.5" y2="821.0" stroke="#3a3a3a" stroke-width="1"/>
<line x1="1053.5" y1="814.0" x2="1053.5" y2="819.0" stroke="#9c9c9c" stroke-width="1"/>
<line x1="1118.5" y1="814.0" x2="1118.5" y2="821.0" stroke="#3a3a3a" stroke-width="1"/>
<line x1="1183.5" y1="814.0" x2="1183.5" y2="819.0" stroke="#9c9c9c" stroke-width="1"/>
<line x1="1248.5" y1="814.0" x2="1248.5" y2="821.0" stroke="#3a3a3a" stroke-width="1"/>
<line x1="1314.5" y1="814.0" x2="1314.5" y2="819.0" stroke="#9c9c9c" stroke-width="1"/>
<line x1="1379.5" y1="814.0" x2="1379.5" y2="821.0" stroke="#3a3a3a" stroke-width="1"/>
<line x1="1444.5" y1="814.0" x2="1444.5" y2="819.0" stroke="#9c9c9c" stroke-width="1"/>
<line x1="1509.5" y1="814.0" x2="1509.5" y2="821.0" stroke="#3a3a3a" stroke-width="1"/>
<line x1="1574.5" y1="814.0" x2="1574.5" y2="819.0" stroke="#9c9c9c" stroke-width="1"/>
<line x1="1640.5" y1="814.0" x2="1640.5" y2="821.0" stroke="#3a3a3a" stroke-width="1"/>
<line x1="982.8" y1="814.5" x2="988.3" y2="814.5" stroke="#9c9c9c" stroke-width="1"/>
<line x1="980.8" y1="750.5" x2="988.3" y2="750.5" stroke="#3a3a3a" stroke-width="1"/>
<line x1="982.8" y1="686.5" x2="988.3" y2="686.5" stroke="#9c9c9c" stroke-width="1"/>
<line x1="980.8" y1="622.5" x2="988.3" y2="622.5" stroke="#3a3a3a" stroke-width="1"/>
<line x1="982.8" y1="559.5" x2="988.3" y2="559.5" stroke="#9c9c9c" stroke-width="1"/>
<line x1="980.8" y1="495.5" x2="988.3" y2="495.5" stroke="#3a3a3a" stroke-width="1"/>
<line x1="982.8" y1="431.5" x2="988.3" y2="431.5" stroke="#9c9c9c" stroke-width="1"/>
<line x1="980.8" y1="368.5" x2="988.3" y2="368.5" stroke="#3a3a3a" stroke-width="1"/>
<line x1="982.8" y1="304.5" x2="988.3" y2="304.5" stroke="#9c9c9c" stroke-width="1"/>
<line x1="980.8" y1="240.5" x2="988.3" y2="240.5" stroke="#3a3a3a" stroke-width="1"/>
<line x1="982.8" y1="177.5" x2="988.3" y2="177.5" stroke="#9c9c9c" stroke-width="1"/>
<line x1="980.8" y1="113.5" x2="988.3" y2="113.5" stroke="#3a3a3a" stroke-width="1"/>
<line x1="982.8" y1="49.5" x2="988.3" y2="49.5" stroke="#9c9c9c" stroke-width="1"/>
<text class="s" x="988.0" y="852" font-size="26" text-anchor="middle" stroke="#000">24</text>
<text class="s" x="1118.3" y="852" font-size="26" text-anchor="middle" stroke="#000">26</text>
<text class="s" x="1248.7" y="852" font-size="26" text-anchor="middle" stroke="#000">28</text>
<text class="s" x="1379.0" y="852" font-size="26" text-anchor="middle" stroke="#000">30</text>
<text class="s" x="1509.4" y="852" font-size="26" text-anchor="middle" stroke="#000">32</text>
<text class="s" x="1639.7" y="852" font-size="26" text-anchor="middle" stroke="#000">34</text>
<text class="s" x="971.5" y="759.0" font-size="26" text-anchor="end" stroke="#000">5</text>
<text class="s" x="971.5" y="631.7" font-size="26" text-anchor="end" stroke="#000">10</text>
<text class="s" x="971.5" y="504.3" font-size="26" text-anchor="end" stroke="#000">15</text>
<text class="s" x="971.5" y="377.0" font-size="26" text-anchor="end" stroke="#000">20</text>
<text class="s" x="971.5" y="249.6" font-size="26" text-anchor="end" stroke="#000">25</text>
<text class="s" x="971.5" y="122.3" font-size="26" text-anchor="end" stroke="#000">30</text>
<text class="s" x="1314" y="883.8" font-size="31.5" text-anchor="middle" stroke="#000">Salinity</text>
<text class="s" x="0" y="0" font-size="32.05" text-anchor="middle" transform="translate(915.3 432) rotate(-90)" stroke="#000">Potential Temperature θ [degC]</text>
<text class="s" x="1389.5" y="30.0" font-size="34.5" stroke="#000">NO<tspan font-size="21.5" dy="6">3</tspan><tspan font-size="21.5" dy="-23">-</tspan><tspan dy="17">-N[μmol/L]</tspan></text>
<text x="907.5" y="28.6" font-family='"Liberation Sans", Arial, Helvetica, sans-serif' font-weight="bold" font-size="33.5" stroke="#000" stroke-width="0.8" stroke-linejoin="round">B</text>
<text class="s" x="1001.5" y="100.8" font-size="48.5" fill="#808080">σ<tspan font-size="31" dy="5.5" dx="-1.5">0</tspan></text>
<text class="s" x="1011" y="792" font-size="26" stroke="#000">Summer</text>
<text class="r" x="1263.5" y="107" font-size="30.5" fill="#c80000" textLength="75" lengthAdjust="spacingAndGlyphs" stroke="#c80000">CDW</text>
<text class="r" x="1418" y="90.2" font-size="30" textLength="162" lengthAdjust="spacingAndGlyphs" stroke="#000">mixed water</text>
<text class="r" font-size="17" x="1579.4" y="125" stroke="#000">Outer</text>
<text class="r" font-size="17" x="1579.4" y="146" stroke="#000">shelf</text>
<text class="r" font-size="17" x="1579.4" y="167" stroke="#000">water</text>
<text class="r" font-size="24" fill="#c80000" x="1540" y="366.7" stroke="#c80000">CDW</text>
<text class="r" font-size="24" fill="#c80000" x="1540" y="395.5" stroke="#c80000">bottom</text>
<text class="r" font-size="24" fill="#c80000" x="1540" y="424.4" stroke="#c80000">water</text>
<text class="r" x="1008.5" y="660" font-size="31.5" fill="#2b58a4" textLength="121.5" lengthAdjust="spacingAndGlyphs" stroke="#2b58a4">YSCWM</text>
<text class="r" x="1432.3" y="703.7" font-size="31" fill="#2b58a4" textLength="68" lengthAdjust="spacingAndGlyphs" stroke="#2b58a4">nCW</text>
<text class="r" x="1567" y="703.7" font-size="31" fill="#2b58a4" textLength="63" lengthAdjust="spacingAndGlyphs" stroke="#2b58a4">sCW</text>
<path d="M1671.8 49.7 L1681.5 37.9 L1691.3 49.7 Z" fill="#f8b484" stroke="#8a6a50" stroke-width="0.5"/>
<path d="M1671.8 813.9 L1681.5 825.5 L1691.3 813.9 Z" fill="#d074e8" stroke="#8a5a98" stroke-width="0.5"/>
<rect x="1671.8" y="49.7" width="19.5" height="764.2" fill="url(#cb)" stroke="#555" stroke-opacity="0.55" stroke-width="0.6"/>
<path d="M1671.8 813.9 h3.5 M1691.3 813.9 h-3.5" stroke="#222" stroke-opacity="0.8" stroke-width="1"/>
<text class="s" x="1700.0" y="821.8" font-size="23.6" stroke="#000">0</text>
<path d="M1671.8 686.5 h3.5 M1691.3 686.5 h-3.5" stroke="#222" stroke-opacity="0.8" stroke-width="1"/>
<text class="s" x="1700.0" y="694.4" font-size="23.6" stroke="#000">2.5</text>
<path d="M1671.8 559.2 h3.5 M1691.3 559.2 h-3.5" stroke="#222" stroke-opacity="0.8" stroke-width="1"/>
<text class="s" x="1700.0" y="567.1" font-size="23.6" stroke="#000">5</text>
<path d="M1671.8 431.8 h3.5 M1691.3 431.8 h-3.5" stroke="#222" stroke-opacity="0.8" stroke-width="1"/>
<text class="s" x="1700.0" y="439.7" font-size="23.6" stroke="#000">7.5</text>
<path d="M1671.8 304.4 h3.5 M1691.3 304.4 h-3.5" stroke="#222" stroke-opacity="0.8" stroke-width="1"/>
<text class="s" x="1700.0" y="312.3" font-size="23.6" stroke="#000">10</text>
<path d="M1671.8 177.1 h3.5 M1691.3 177.1 h-3.5" stroke="#222" stroke-opacity="0.8" stroke-width="1"/>
<text class="s" x="1700.0" y="185.0" font-size="23.6" stroke="#000">12.5</text>
<path d="M1671.8 49.7 h3.5 M1691.3 49.7 h-3.5" stroke="#222" stroke-opacity="0.8" stroke-width="1"/>
<text class="s" x="1700.0" y="57.6" font-size="23.6" stroke="#000">15</text>
<text class="s" x="0" y="0" font-size="17.5" transform="translate(1661.6 809.1) rotate(-90)" textLength="127" lengthAdjust="spacingAndGlyphs" stroke="#000">Ocean Data View</text>
</svg></body></html>
